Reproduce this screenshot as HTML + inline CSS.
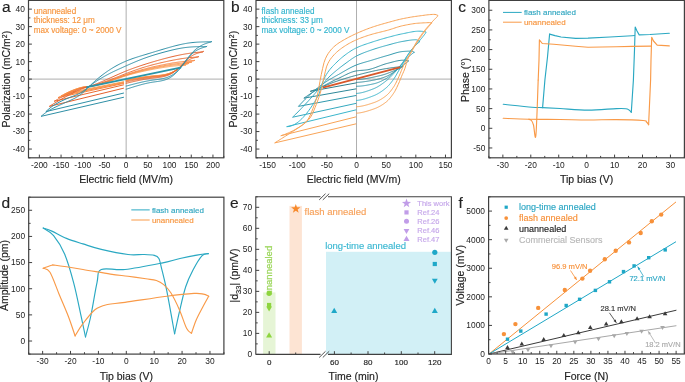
<!DOCTYPE html>
<html><head><meta charset="utf-8"><style>html,body{margin:0;padding:0;background:#fff;}svg{display:block;will-change:transform}</style></head>
<body><svg width="685" height="382" viewBox="0 0 685 382" font-family="&quot;Liberation Sans&quot;, sans-serif">
<rect width="685" height="382" fill="#fff"/>
<line x1="126.15" y1="0.4" x2="126.15" y2="157.8" stroke="#999" stroke-width="0.8"/>
<line x1="28.5" y1="79.10" x2="223.8" y2="79.10" stroke="#999" stroke-width="0.8"/>
<path d="M126.15,79.97 L126.65,79.88 L127.15,79.79 L127.65,79.70 L128.15,79.61 L128.65,79.52 L129.15,79.43 L129.65,79.34 L130.15,79.25 L130.65,79.16 L131.15,79.07 L131.65,78.98 L132.15,78.89 L132.65,78.80 L133.15,78.71 L133.64,78.63 L134.14,78.54 L134.64,78.45 L135.14,78.37 L135.64,78.28 L136.14,78.20 L136.64,78.11 L137.14,78.03 L137.64,77.94 L138.14,77.86 L138.64,77.78 L139.14,77.70 L139.64,77.62 L140.14,77.54 L140.64,77.46 L141.14,77.39 L141.64,77.31 L142.14,77.24 L142.64,77.16 L143.14,77.09 L143.64,77.02 L144.14,76.95 L144.64,76.88 L145.14,76.81 L145.64,76.74 L146.14,76.68 L146.64,76.61 L147.14,76.55 L147.63,76.49 L148.13,76.43 L148.63,76.37 L149.13,76.31 L149.63,76.26 L150.13,76.20 L150.63,76.15 L151.13,76.10 L151.63,76.05 L152.13,76.00 L152.63,75.96 L153.13,75.91 L153.63,75.87 L154.13,75.82 L154.63,75.78 L155.13,75.74 L155.63,75.70 L156.13,75.65 L156.63,75.61 L157.13,75.57 L157.63,75.52 L158.13,75.47 L158.63,75.42 L159.13,75.37 L159.63,75.32 L160.13,75.26 L160.63,75.20 L161.13,75.14 L161.62,75.07 L162.12,75.00 L162.62,74.92 L163.12,74.84 L163.62,74.75 L164.12,74.66 L164.62,74.56 L165.12,74.46 L165.62,74.35 L166.12,74.24 L166.62,74.11 L167.12,73.98 L167.62,73.84 L168.12,73.70 L168.62,73.55 L169.12,73.38 L169.62,73.21 L170.12,73.03 L170.62,72.84 L171.12,72.64 L171.62,72.43 L172.12,72.21 L172.62,71.98 L173.12,71.74 L173.62,71.49 L174.12,71.23 L174.62,70.95 L175.12,70.66 L175.62,70.37 L176.11,70.06 L176.61,69.73 L177.11,69.40 L177.61,69.05 L178.11,68.69 L178.61,68.32 L179.11,67.94 L179.61,67.57 L180.11,67.21 L180.61,66.86 L181.11,66.55 L181.61,66.27 L182.11,66.03 L182.61,65.82 L183.11,65.65 L183.61,65.50 L184.11,65.38 L184.61,65.28 L185.11,65.19 L185.61,65.11 L186.26,64.58 L185.61,65.11 L184.86,65.16 L184.11,65.21 L183.36,65.26 L182.62,65.32 L181.87,65.37 L181.12,65.42 L180.37,65.48 L179.62,65.54 L178.88,65.60 L178.13,65.66 L177.38,65.72 L176.63,65.79 L175.89,65.86 L175.14,65.93 L174.39,66.01 L173.64,66.09 L172.89,66.17 L172.15,66.25 L171.40,66.34 L170.65,66.44 L169.90,66.53 L169.15,66.63 L168.41,66.73 L167.66,66.83 L166.91,66.94 L166.16,67.05 L165.41,67.16 L164.67,67.27 L163.92,67.39 L163.17,67.50 L162.42,67.62 L161.68,67.75 L160.93,67.87 L160.18,68.00 L159.43,68.12 L158.68,68.25 L157.94,68.39 L157.19,68.52 L156.44,68.65 L155.69,68.79 L154.94,68.93 L154.20,69.07 L153.45,69.21 L152.70,69.35 L151.95,69.50 L151.20,69.64 L150.46,69.79 L149.71,69.94 L148.96,70.09 L148.21,70.24 L147.47,70.40 L146.72,70.55 L145.97,70.71 L145.22,70.87 L144.47,71.03 L143.73,71.20 L142.98,71.37 L142.23,71.53 L141.48,71.70 L140.73,71.88 L139.99,72.05 L139.24,72.23 L138.49,72.41 L137.74,72.59 L136.99,72.78 L136.25,72.96 L135.50,73.15 L134.75,73.34 L134.00,73.54 L133.26,73.74 L132.51,73.94 L131.76,74.14 L131.01,74.34 L130.26,74.55 L129.52,74.76 L128.77,74.98 L128.02,75.19 L127.27,75.41 L126.52,75.63 L125.78,75.86 L125.03,76.09 L124.28,76.32 L123.53,76.56 L122.78,76.80 L122.04,77.04 L121.29,77.29 L120.54,77.53 L119.79,77.79 L119.04,78.04 L118.30,78.30 L117.55,78.56 L116.80,78.83 L116.05,79.09 L115.31,79.36 L114.56,79.62 L113.81,79.89 L113.06,80.16 L112.31,80.42 L111.57,80.69 L110.82,80.95 L110.07,81.22 L109.32,81.48 L108.57,81.74 L107.83,82.00 L107.08,82.25 L106.33,82.50 L105.58,82.75 L104.83,82.99 L104.09,83.23 L103.34,83.46 L102.59,83.69 L101.84,83.91 L101.10,84.13 L100.35,84.34 L99.60,84.54 L98.85,84.74 L98.10,84.93 L97.36,85.11 L96.61,85.28 L95.86,85.44 L95.11,85.60 L94.36,85.74 L93.62,85.88 L92.87,86.00 L92.12,86.11 L91.37,86.22 L90.62,86.31 L89.88,86.39 L89.13,86.46 L88.38,86.51 L87.63,86.56 L86.89,86.62 L86.14,86.67 L85.39,86.74 L84.64,86.83 L83.89,86.93 L83.15,87.06 L82.40,87.20 L81.65,87.36 L80.90,87.54 L80.15,87.73 L79.41,87.94 L78.66,88.15 L77.91,88.38 L77.16,88.62 L76.41,88.86 L75.67,89.12 L74.92,89.39 L74.17,89.67 L73.42,89.96 L72.68,90.26 L71.93,90.57 L71.18,90.90 L70.43,91.24 L69.68,91.59 L68.94,91.95 L68.19,92.33 L67.44,92.71 L66.69,93.09 L66.69,93.09 L123.55,81.72" fill="none" stroke="#fca45a" stroke-width="1.0" stroke-linejoin="round" stroke-linecap="round"/>
<path d="M126.15,80.15 L126.67,80.05 L127.19,79.96 L127.71,79.86 L128.24,79.76 L128.76,79.67 L129.28,79.57 L129.80,79.48 L130.32,79.38 L130.84,79.28 L131.37,79.19 L131.89,79.10 L132.41,79.00 L132.93,78.91 L133.45,78.81 L133.97,78.72 L134.49,78.63 L135.02,78.54 L135.54,78.45 L136.06,78.36 L136.58,78.27 L137.10,78.18 L137.62,78.09 L138.15,78.00 L138.67,77.92 L139.19,77.83 L139.71,77.75 L140.23,77.67 L140.75,77.58 L141.27,77.50 L141.80,77.42 L142.32,77.34 L142.84,77.26 L143.36,77.19 L143.88,77.11 L144.40,77.04 L144.93,76.97 L145.45,76.89 L145.97,76.82 L146.49,76.76 L147.01,76.69 L147.53,76.62 L148.05,76.56 L148.58,76.50 L149.10,76.44 L149.62,76.38 L150.14,76.32 L150.66,76.26 L151.18,76.21 L151.70,76.16 L152.23,76.11 L152.75,76.06 L153.27,76.01 L153.79,75.96 L154.31,75.92 L154.83,75.87 L155.36,75.83 L155.88,75.79 L156.40,75.74 L156.92,75.69 L157.44,75.65 L157.96,75.60 L158.48,75.54 L159.01,75.49 L159.53,75.43 L160.05,75.37 L160.57,75.31 L161.09,75.24 L161.61,75.17 L162.14,75.09 L162.66,75.01 L163.18,74.93 L163.70,74.83 L164.22,74.74 L164.74,74.63 L165.26,74.52 L165.79,74.40 L166.31,74.28 L166.83,74.14 L167.35,74.00 L167.87,73.85 L168.39,73.69 L168.92,73.53 L169.44,73.35 L169.96,73.16 L170.48,72.96 L171.00,72.75 L171.52,72.53 L172.04,72.30 L172.57,72.06 L173.09,71.81 L173.61,71.54 L174.13,71.26 L174.65,70.97 L175.17,70.66 L175.70,70.34 L176.22,70.01 L176.74,69.67 L177.26,69.31 L177.78,68.94 L178.30,68.55 L178.82,68.15 L179.35,67.75 L179.87,67.34 L180.39,66.94 L180.91,66.55 L181.43,66.18 L181.95,65.84 L182.48,65.52 L183.00,65.23 L183.52,64.98 L184.04,64.75 L184.56,64.55 L185.08,64.38 L185.60,64.23 L186.13,64.10 L186.65,63.99 L187.17,63.89 L187.69,63.80 L188.21,63.71 L188.86,63.19 L188.21,63.71 L187.43,63.77 L186.65,63.82 L185.87,63.88 L185.09,63.93 L184.31,63.99 L183.53,64.05 L182.75,64.11 L181.97,64.18 L181.19,64.24 L180.41,64.31 L179.62,64.38 L178.84,64.45 L178.06,64.53 L177.28,64.61 L176.50,64.69 L175.72,64.77 L174.94,64.86 L174.16,64.96 L173.38,65.06 L172.60,65.16 L171.82,65.26 L171.04,65.37 L170.26,65.48 L169.48,65.59 L168.70,65.71 L167.91,65.82 L167.13,65.95 L166.35,66.07 L165.57,66.20 L164.79,66.32 L164.01,66.46 L163.23,66.59 L162.45,66.73 L161.67,66.86 L160.89,67.00 L160.11,67.14 L159.33,67.29 L158.55,67.43 L157.77,67.58 L156.99,67.73 L156.21,67.88 L155.42,68.03 L154.64,68.18 L153.86,68.34 L153.08,68.50 L152.30,68.66 L151.52,68.82 L150.74,68.98 L149.96,69.14 L149.18,69.31 L148.40,69.48 L147.62,69.65 L146.84,69.82 L146.06,70.00 L145.28,70.18 L144.50,70.36 L143.71,70.54 L142.93,70.73 L142.15,70.91 L141.37,71.10 L140.59,71.30 L139.81,71.49 L139.03,71.69 L138.25,71.89 L137.47,72.09 L136.69,72.30 L135.91,72.51 L135.13,72.72 L134.35,72.93 L133.57,73.15 L132.79,73.37 L132.00,73.60 L131.22,73.82 L130.44,74.05 L129.66,74.29 L128.88,74.52 L128.10,74.76 L127.32,75.00 L126.54,75.25 L125.76,75.50 L124.98,75.75 L124.20,76.00 L123.42,76.26 L122.64,76.52 L121.86,76.79 L121.08,77.06 L120.30,77.33 L119.51,77.60 L118.73,77.88 L117.95,78.16 L117.17,78.44 L116.39,78.73 L115.61,79.01 L114.83,79.29 L114.05,79.58 L113.27,79.86 L112.49,80.15 L111.71,80.43 L110.93,80.71 L110.15,80.99 L109.37,81.27 L108.59,81.54 L107.80,81.81 L107.02,82.08 L106.24,82.35 L105.46,82.61 L104.68,82.87 L103.90,83.12 L103.12,83.36 L102.34,83.61 L101.56,83.84 L100.78,84.07 L100.00,84.29 L99.22,84.51 L98.44,84.71 L97.66,84.91 L96.88,85.10 L96.09,85.28 L95.31,85.46 L94.53,85.62 L93.75,85.77 L92.97,85.92 L92.19,86.05 L91.41,86.17 L90.63,86.28 L89.85,86.38 L89.07,86.47 L88.29,86.54 L87.51,86.61 L86.73,86.68 L85.95,86.75 L85.17,86.84 L84.39,86.94 L83.60,87.07 L82.82,87.21 L82.04,87.38 L81.26,87.56 L80.48,87.76 L79.70,87.98 L78.92,88.21 L78.14,88.45 L77.36,88.70 L76.58,88.96 L75.80,89.23 L75.02,89.51 L74.24,89.80 L73.46,90.10 L72.68,90.41 L71.89,90.73 L71.11,91.06 L70.33,91.40 L69.55,91.75 L68.77,92.11 L67.99,92.48 L67.21,92.87 L66.43,93.26 L65.65,93.67 L64.87,94.08 L64.09,94.49 L64.09,94.49 L123.55,82.25" fill="none" stroke="#fb9a50" stroke-width="1.0" stroke-linejoin="round" stroke-linecap="round"/>
<path d="M126.15,80.50 L126.70,80.39 L127.24,80.29 L127.79,80.18 L128.34,80.08 L128.89,79.97 L129.43,79.87 L129.98,79.76 L130.53,79.66 L131.07,79.56 L131.62,79.45 L132.17,79.35 L132.71,79.25 L133.26,79.15 L133.81,79.05 L134.36,78.94 L134.90,78.85 L135.45,78.75 L136.00,78.65 L136.54,78.55 L137.09,78.45 L137.64,78.36 L138.19,78.26 L138.73,78.17 L139.28,78.08 L139.83,77.99 L140.37,77.90 L140.92,77.81 L141.47,77.72 L142.01,77.64 L142.56,77.55 L143.11,77.47 L143.66,77.39 L144.20,77.31 L144.75,77.23 L145.30,77.15 L145.84,77.07 L146.39,77.00 L146.94,76.93 L147.49,76.86 L148.03,76.79 L148.58,76.72 L149.13,76.66 L149.67,76.60 L150.22,76.54 L150.77,76.48 L151.31,76.42 L151.86,76.37 L152.41,76.32 L152.96,76.27 L153.50,76.22 L154.05,76.17 L154.60,76.13 L155.14,76.08 L155.69,76.03 L156.24,75.99 L156.79,75.94 L157.33,75.89 L157.88,75.84 L158.43,75.79 L158.97,75.73 L159.52,75.67 L160.07,75.61 L160.61,75.54 L161.16,75.47 L161.71,75.39 L162.26,75.31 L162.80,75.22 L163.35,75.13 L163.90,75.03 L164.44,74.92 L164.99,74.80 L165.54,74.68 L166.09,74.55 L166.63,74.41 L167.18,74.25 L167.73,74.09 L168.27,73.92 L168.82,73.74 L169.37,73.55 L169.91,73.34 L170.46,73.13 L171.01,72.90 L171.56,72.65 L172.10,72.40 L172.65,72.13 L173.20,71.84 L173.74,71.55 L174.29,71.23 L174.84,70.91 L175.39,70.57 L175.93,70.22 L176.48,69.85 L177.03,69.47 L177.57,69.09 L178.12,68.69 L178.67,68.28 L179.21,67.86 L179.76,67.44 L180.31,67.02 L180.86,66.61 L181.40,66.20 L181.95,65.81 L182.50,65.43 L183.04,65.07 L183.59,64.74 L184.14,64.43 L184.69,64.15 L185.23,63.90 L185.78,63.66 L186.33,63.46 L186.87,63.27 L187.42,63.10 L187.97,62.95 L188.51,62.81 L189.06,62.70 L189.61,62.59 L190.16,62.49 L190.70,62.40 L191.25,62.31 L191.90,61.79 L191.25,62.31 L190.43,62.37 L189.61,62.43 L188.79,62.49 L187.97,62.55 L187.16,62.62 L186.34,62.68 L185.52,62.75 L184.70,62.81 L183.88,62.89 L183.06,62.96 L182.24,63.03 L181.42,63.11 L180.60,63.20 L179.79,63.28 L178.97,63.37 L178.15,63.47 L177.33,63.57 L176.51,63.67 L175.69,63.78 L174.87,63.88 L174.05,64.00 L173.23,64.12 L172.42,64.24 L171.60,64.36 L170.78,64.49 L169.96,64.61 L169.14,64.75 L168.32,64.88 L167.50,65.02 L166.68,65.16 L165.87,65.30 L165.05,65.45 L164.23,65.60 L163.41,65.75 L162.59,65.90 L161.77,66.05 L160.95,66.21 L160.13,66.37 L159.31,66.53 L158.50,66.69 L157.68,66.85 L156.86,67.02 L156.04,67.18 L155.22,67.35 L154.40,67.52 L153.58,67.70 L152.76,67.87 L151.94,68.05 L151.13,68.23 L150.31,68.41 L149.49,68.59 L148.67,68.78 L147.85,68.97 L147.03,69.16 L146.21,69.36 L145.39,69.56 L144.57,69.76 L143.76,69.96 L142.94,70.17 L142.12,70.37 L141.30,70.59 L140.48,70.80 L139.66,71.02 L138.84,71.24 L138.02,71.47 L137.20,71.69 L136.39,71.93 L135.57,72.16 L134.75,72.40 L133.93,72.64 L133.11,72.88 L132.29,73.13 L131.47,73.38 L130.65,73.63 L129.83,73.89 L129.02,74.15 L128.20,74.41 L127.38,74.68 L126.56,74.94 L125.74,75.22 L124.92,75.49 L124.10,75.77 L123.28,76.05 L122.47,76.33 L121.65,76.62 L120.83,76.91 L120.01,77.20 L119.19,77.50 L118.37,77.79 L117.55,78.09 L116.73,78.39 L115.91,78.69 L115.10,78.99 L114.28,79.29 L113.46,79.58 L112.64,79.88 L111.82,80.18 L111.00,80.47 L110.18,80.76 L109.36,81.06 L108.54,81.34 L107.73,81.63 L106.91,81.91 L106.09,82.19 L105.27,82.46 L104.45,82.73 L103.63,82.99 L102.81,83.25 L101.99,83.50 L101.17,83.75 L100.36,83.99 L99.54,84.23 L98.72,84.45 L97.90,84.67 L97.08,84.88 L96.26,85.09 L95.44,85.28 L94.62,85.47 L93.80,85.65 L92.99,85.81 L92.17,85.97 L91.35,86.12 L90.53,86.26 L89.71,86.38 L88.89,86.50 L88.07,86.60 L87.25,86.70 L86.43,86.80 L85.62,86.91 L84.80,87.03 L83.98,87.16 L83.16,87.31 L82.34,87.49 L81.52,87.68 L80.70,87.90 L79.88,88.13 L79.07,88.37 L78.25,88.63 L77.43,88.89 L76.61,89.17 L75.79,89.45 L74.97,89.74 L74.15,90.04 L73.33,90.35 L72.51,90.66 L71.70,90.98 L70.88,91.31 L70.06,91.65 L69.24,92.00 L68.42,92.35 L67.60,92.71 L66.78,93.08 L65.96,93.46 L65.14,93.85 L64.33,94.25 L63.51,94.65 L62.69,95.06 L61.87,95.47 L61.05,95.89 L61.05,95.89 L123.55,82.77" fill="none" stroke="#fa9048" stroke-width="1.0" stroke-linejoin="round" stroke-linecap="round"/>
<path d="M126.15,80.85 L126.72,80.74 L127.30,80.62 L127.87,80.51 L128.44,80.39 L129.01,80.28 L129.59,80.17 L130.16,80.06 L130.73,79.94 L131.30,79.83 L131.88,79.72 L132.45,79.61 L133.02,79.50 L133.59,79.39 L134.17,79.28 L134.74,79.18 L135.31,79.07 L135.88,78.96 L136.46,78.86 L137.03,78.75 L137.60,78.65 L138.17,78.55 L138.75,78.45 L139.32,78.35 L139.89,78.25 L140.46,78.15 L141.04,78.06 L141.61,77.96 L142.18,77.87 L142.76,77.78 L143.33,77.69 L143.90,77.61 L144.47,77.52 L145.05,77.44 L145.62,77.35 L146.19,77.27 L146.76,77.20 L147.34,77.12 L147.91,77.05 L148.48,76.97 L149.05,76.90 L149.63,76.84 L150.20,76.77 L150.77,76.71 L151.34,76.65 L151.92,76.59 L152.49,76.54 L153.06,76.48 L153.63,76.43 L154.21,76.38 L154.78,76.33 L155.35,76.28 L155.92,76.23 L156.50,76.18 L157.07,76.13 L157.64,76.08 L158.21,76.02 L158.79,75.96 L159.36,75.90 L159.93,75.83 L160.51,75.76 L161.08,75.69 L161.65,75.61 L162.22,75.52 L162.80,75.42 L163.37,75.32 L163.94,75.21 L164.51,75.10 L165.09,74.97 L165.66,74.83 L166.23,74.69 L166.80,74.53 L167.38,74.37 L167.95,74.19 L168.52,74.00 L169.09,73.80 L169.67,73.58 L170.24,73.35 L170.81,73.11 L171.38,72.85 L171.96,72.58 L172.53,72.29 L173.10,71.99 L173.67,71.67 L174.25,71.33 L174.82,70.98 L175.39,70.62 L175.97,70.24 L176.54,69.84 L177.11,69.44 L177.68,69.02 L178.26,68.59 L178.83,68.15 L179.40,67.70 L179.97,67.24 L180.55,66.79 L181.12,66.33 L181.69,65.89 L182.26,65.45 L182.84,65.02 L183.41,64.61 L183.98,64.21 L184.55,63.84 L185.13,63.49 L185.70,63.17 L186.27,62.87 L186.84,62.60 L187.42,62.34 L187.99,62.11 L188.56,61.90 L189.13,61.70 L189.71,61.52 L190.28,61.36 L190.85,61.22 L191.43,61.09 L192.00,60.97 L192.57,60.86 L193.14,60.76 L193.72,60.66 L194.29,60.56 L194.94,60.04 L194.29,60.56 L193.43,60.63 L192.57,60.69 L191.72,60.76 L190.86,60.83 L190.00,60.89 L189.15,60.97 L188.29,61.04 L187.43,61.11 L186.57,61.19 L185.72,61.27 L184.86,61.35 L184.00,61.44 L183.15,61.53 L182.29,61.63 L181.43,61.73 L180.57,61.83 L179.72,61.94 L178.86,62.05 L178.00,62.17 L177.15,62.29 L176.29,62.42 L175.43,62.54 L174.58,62.68 L173.72,62.81 L172.86,62.95 L172.00,63.09 L171.15,63.24 L170.29,63.39 L169.43,63.54 L168.58,63.70 L167.72,63.85 L166.86,64.01 L166.00,64.18 L165.15,64.34 L164.29,64.51 L163.43,64.68 L162.58,64.85 L161.72,65.02 L160.86,65.19 L160.00,65.37 L159.15,65.55 L158.29,65.73 L157.43,65.91 L156.58,66.10 L155.72,66.29 L154.86,66.48 L154.01,66.67 L153.15,66.86 L152.29,67.06 L151.43,67.26 L150.58,67.46 L149.72,67.67 L148.86,67.88 L148.01,68.09 L147.15,68.31 L146.29,68.52 L145.43,68.75 L144.58,68.97 L143.72,69.20 L142.86,69.43 L142.01,69.67 L141.15,69.91 L140.29,70.15 L139.43,70.40 L138.58,70.65 L137.72,70.90 L136.86,71.16 L136.01,71.42 L135.15,71.69 L134.29,71.95 L133.44,72.22 L132.58,72.50 L131.72,72.77 L130.86,73.05 L130.01,73.34 L129.15,73.62 L128.29,73.91 L127.44,74.21 L126.58,74.50 L125.72,74.80 L124.86,75.10 L124.01,75.40 L123.15,75.71 L122.29,76.02 L121.44,76.33 L120.58,76.64 L119.72,76.96 L118.86,77.27 L118.01,77.59 L117.15,77.91 L116.29,78.23 L115.44,78.54 L114.58,78.86 L113.72,79.18 L112.87,79.49 L112.01,79.81 L111.15,80.12 L110.29,80.43 L109.44,80.74 L108.58,81.04 L107.72,81.34 L106.87,81.64 L106.01,81.94 L105.15,82.23 L104.29,82.51 L103.44,82.79 L102.58,83.07 L101.72,83.34 L100.87,83.60 L100.01,83.86 L99.15,84.12 L98.29,84.36 L97.44,84.60 L96.58,84.83 L95.72,85.05 L94.87,85.27 L94.01,85.47 L93.15,85.67 L92.30,85.86 L91.44,86.04 L90.58,86.21 L89.72,86.36 L88.87,86.51 L88.01,86.65 L87.15,86.79 L86.30,86.92 L85.44,87.06 L84.58,87.21 L83.72,87.38 L82.87,87.56 L82.01,87.77 L81.15,87.99 L80.30,88.23 L79.44,88.49 L78.58,88.77 L77.72,89.06 L76.87,89.36 L76.01,89.66 L75.15,89.98 L74.30,90.30 L73.44,90.63 L72.58,90.96 L71.73,91.30 L70.87,91.65 L70.01,92.00 L69.15,92.36 L68.30,92.72 L67.44,93.10 L66.58,93.48 L65.73,93.86 L64.87,94.26 L64.01,94.66 L63.15,95.07 L62.30,95.48 L61.44,95.90 L60.58,96.33 L59.73,96.76 L58.87,97.20 L58.01,97.64 L58.01,97.64 L123.55,83.47" fill="none" stroke="#f98640" stroke-width="1.0" stroke-linejoin="round" stroke-linecap="round"/>
<path d="M126.15,81.90 L126.76,81.77 L127.36,81.64 L127.97,81.51 L128.57,81.38 L129.18,81.25 L129.78,81.12 L130.39,80.99 L130.99,80.87 L131.60,80.74 L132.20,80.61 L132.81,80.49 L133.41,80.36 L134.02,80.24 L134.63,80.12 L135.23,79.99 L135.84,79.87 L136.44,79.75 L137.05,79.63 L137.65,79.52 L138.26,79.40 L138.86,79.28 L139.47,79.17 L140.07,79.06 L140.68,78.95 L141.29,78.84 L141.89,78.73 L142.50,78.63 L143.10,78.52 L143.71,78.42 L144.31,78.32 L144.92,78.23 L145.52,78.13 L146.13,78.04 L146.73,77.95 L147.34,77.86 L147.94,77.77 L148.55,77.69 L149.16,77.61 L149.76,77.53 L150.37,77.46 L150.97,77.38 L151.58,77.31 L152.18,77.25 L152.79,77.18 L153.39,77.12 L154.00,77.06 L154.60,77.00 L155.21,76.94 L155.82,76.89 L156.42,76.83 L157.03,76.76 L157.63,76.70 L158.24,76.64 L158.84,76.57 L159.45,76.49 L160.05,76.41 L160.66,76.33 L161.26,76.24 L161.87,76.14 L162.47,76.03 L163.08,75.92 L163.69,75.80 L164.29,75.67 L164.90,75.53 L165.50,75.38 L166.11,75.21 L166.71,75.04 L167.32,74.85 L167.92,74.65 L168.53,74.43 L169.13,74.20 L169.74,73.96 L170.35,73.69 L170.95,73.42 L171.56,73.12 L172.16,72.81 L172.77,72.47 L173.37,72.12 L173.98,71.75 L174.58,71.36 L175.19,70.95 L175.79,70.52 L176.40,70.08 L177.00,69.61 L177.61,69.12 L178.22,68.62 L178.82,68.10 L179.43,67.56 L180.03,67.01 L180.64,66.45 L181.24,65.89 L181.85,65.33 L182.45,64.77 L183.06,64.21 L183.66,63.67 L184.27,63.14 L184.87,62.63 L185.48,62.14 L186.09,61.67 L186.69,61.23 L187.30,60.82 L187.90,60.44 L188.51,60.08 L189.11,59.75 L189.72,59.44 L190.32,59.15 L190.93,58.89 L191.53,58.64 L192.14,58.41 L192.75,58.21 L193.35,58.02 L193.96,57.84 L194.56,57.68 L195.17,57.53 L195.77,57.39 L196.38,57.26 L196.98,57.13 L197.59,57.01 L198.19,56.89 L198.84,56.36 L198.19,56.89 L197.29,56.97 L196.38,57.04 L195.48,57.12 L194.57,57.20 L193.66,57.28 L192.76,57.36 L191.85,57.44 L190.94,57.53 L190.04,57.62 L189.13,57.71 L188.23,57.81 L187.32,57.92 L186.41,58.02 L185.51,58.13 L184.60,58.25 L183.69,58.38 L182.79,58.50 L181.88,58.64 L180.98,58.78 L180.07,58.92 L179.16,59.07 L178.26,59.22 L177.35,59.37 L176.44,59.53 L175.54,59.70 L174.63,59.87 L173.73,60.04 L172.82,60.21 L171.91,60.39 L171.01,60.57 L170.10,60.76 L169.20,60.95 L168.29,61.14 L167.38,61.33 L166.48,61.53 L165.57,61.72 L164.66,61.92 L163.76,62.13 L162.85,62.33 L161.95,62.54 L161.04,62.74 L160.13,62.96 L159.23,63.17 L158.32,63.39 L157.41,63.61 L156.51,63.83 L155.60,64.06 L154.70,64.29 L153.79,64.52 L152.88,64.76 L151.98,64.99 L151.07,65.24 L150.16,65.49 L149.26,65.74 L148.35,65.99 L147.45,66.25 L146.54,66.52 L145.63,66.78 L144.73,67.06 L143.82,67.33 L142.91,67.62 L142.01,67.90 L141.10,68.19 L140.20,68.49 L139.29,68.79 L138.38,69.09 L137.48,69.40 L136.57,69.71 L135.67,70.03 L134.76,70.34 L133.85,70.66 L132.95,70.99 L132.04,71.32 L131.13,71.65 L130.23,71.98 L129.32,72.32 L128.42,72.66 L127.51,73.00 L126.60,73.34 L125.70,73.69 L124.79,74.04 L123.88,74.39 L122.98,74.74 L122.07,75.09 L121.17,75.45 L120.26,75.80 L119.35,76.16 L118.45,76.52 L117.54,76.87 L116.63,77.23 L115.73,77.58 L114.82,77.94 L113.92,78.29 L113.01,78.64 L112.10,78.99 L111.20,79.34 L110.29,79.69 L109.39,80.03 L108.48,80.37 L107.57,80.71 L106.67,81.05 L105.76,81.38 L104.85,81.71 L103.95,82.03 L103.04,82.35 L102.14,82.66 L101.23,82.97 L100.32,83.27 L99.42,83.57 L98.51,83.86 L97.60,84.15 L96.70,84.43 L95.79,84.70 L94.89,84.97 L93.98,85.23 L93.07,85.48 L92.17,85.72 L91.26,85.96 L90.35,86.18 L89.45,86.40 L88.54,86.61 L87.64,86.81 L86.73,87.02 L85.82,87.22 L84.92,87.43 L84.01,87.65 L83.10,87.89 L82.20,88.15 L81.29,88.42 L80.39,88.72 L79.48,89.04 L78.57,89.37 L77.67,89.72 L76.76,90.09 L75.86,90.46 L74.95,90.85 L74.04,91.24 L73.14,91.64 L72.23,92.04 L71.32,92.45 L70.42,92.86 L69.51,93.28 L68.61,93.71 L67.70,94.14 L66.79,94.57 L65.89,95.02 L64.98,95.47 L64.07,95.92 L63.17,96.38 L62.26,96.85 L61.36,97.32 L60.45,97.80 L59.54,98.29 L58.64,98.78 L57.73,99.28 L56.82,99.78 L55.92,100.29 L55.01,100.80 L54.11,101.31 L54.11,101.31 L123.55,84.87" fill="none" stroke="#ea6a30" stroke-width="1.0" stroke-linejoin="round" stroke-linecap="round"/>
<path d="M126.15,83.30 L126.80,83.14 L127.44,82.99 L128.09,82.84 L128.73,82.69 L129.38,82.54 L130.02,82.39 L130.67,82.24 L131.31,82.09 L131.96,81.94 L132.61,81.79 L133.25,81.64 L133.90,81.49 L134.54,81.35 L135.19,81.20 L135.83,81.06 L136.48,80.92 L137.12,80.78 L137.77,80.64 L138.42,80.51 L139.06,80.37 L139.71,80.24 L140.35,80.11 L141.00,79.98 L141.64,79.85 L142.29,79.73 L142.93,79.60 L143.58,79.48 L144.22,79.37 L144.87,79.25 L145.52,79.14 L146.16,79.03 L146.81,78.92 L147.45,78.82 L148.10,78.72 L148.74,78.62 L149.39,78.53 L150.03,78.43 L150.68,78.35 L151.33,78.26 L151.97,78.18 L152.62,78.11 L153.26,78.03 L153.91,77.96 L154.55,77.89 L155.20,77.82 L155.84,77.75 L156.49,77.68 L157.14,77.61 L157.78,77.53 L158.43,77.45 L159.07,77.37 L159.72,77.28 L160.36,77.18 L161.01,77.07 L161.65,76.96 L162.30,76.84 L162.95,76.71 L163.59,76.57 L164.24,76.42 L164.88,76.25 L165.53,76.07 L166.17,75.88 L166.82,75.67 L167.46,75.44 L168.11,75.20 L168.75,74.94 L169.40,74.66 L170.05,74.37 L170.69,74.05 L171.34,73.71 L171.98,73.35 L172.63,72.97 L173.27,72.56 L173.92,72.13 L174.56,71.67 L175.21,71.19 L175.86,70.68 L176.50,70.15 L177.15,69.60 L177.79,69.01 L178.44,68.41 L179.08,67.78 L179.73,67.13 L180.37,66.46 L181.02,65.78 L181.67,65.09 L182.31,64.40 L182.96,63.71 L183.60,63.01 L184.25,62.32 L184.89,61.65 L185.54,60.98 L186.18,60.34 L186.83,59.71 L187.48,59.11 L188.12,58.54 L188.77,58.00 L189.41,57.49 L190.06,57.01 L190.70,56.55 L191.35,56.13 L191.99,55.73 L192.64,55.36 L193.29,55.01 L193.93,54.69 L194.58,54.38 L195.22,54.10 L195.87,53.84 L196.51,53.59 L197.16,53.37 L197.80,53.15 L198.45,52.96 L199.09,52.77 L199.74,52.60 L200.39,52.43 L201.03,52.27 L201.68,52.12 L202.32,51.97 L202.97,51.82 L203.62,51.29 L202.97,51.82 L202.00,51.91 L201.04,52.00 L200.07,52.09 L199.10,52.19 L198.14,52.28 L197.17,52.38 L196.20,52.48 L195.24,52.59 L194.27,52.70 L193.31,52.81 L192.34,52.93 L191.37,53.05 L190.41,53.18 L189.44,53.32 L188.47,53.46 L187.51,53.61 L186.54,53.76 L185.58,53.92 L184.61,54.09 L183.64,54.26 L182.68,54.44 L181.71,54.62 L180.74,54.81 L179.78,55.00 L178.81,55.20 L177.85,55.40 L176.88,55.61 L175.91,55.82 L174.95,56.04 L173.98,56.26 L173.01,56.49 L172.05,56.71 L171.08,56.95 L170.12,57.18 L169.15,57.42 L168.18,57.66 L167.22,57.91 L166.25,58.16 L165.28,58.41 L164.32,58.66 L163.35,58.92 L162.38,59.18 L161.42,59.44 L160.45,59.71 L159.49,59.97 L158.52,60.24 L157.55,60.52 L156.59,60.79 L155.62,61.07 L154.65,61.36 L153.69,61.64 L152.72,61.93 L151.76,62.21 L150.79,62.51 L149.82,62.80 L148.86,63.10 L147.89,63.39 L146.92,63.70 L145.96,64.00 L144.99,64.30 L144.03,64.61 L143.06,64.92 L142.09,65.24 L141.13,65.55 L140.16,65.87 L139.19,66.19 L138.23,66.52 L137.26,66.85 L136.30,67.19 L135.33,67.53 L134.36,67.87 L133.40,68.22 L132.43,68.57 L131.46,68.93 L130.50,69.29 L129.53,69.66 L128.57,70.03 L127.60,70.41 L126.63,70.79 L125.67,71.18 L124.70,71.58 L123.73,71.98 L122.77,72.39 L121.80,72.80 L120.84,73.21 L119.87,73.63 L118.90,74.05 L117.94,74.48 L116.97,74.91 L116.00,75.34 L115.04,75.77 L114.07,76.20 L113.11,76.64 L112.14,77.07 L111.17,77.50 L110.21,77.94 L109.24,78.37 L108.27,78.80 L107.31,79.23 L106.34,79.66 L105.38,80.09 L104.41,80.51 L103.44,80.93 L102.48,81.35 L101.51,81.76 L100.54,82.16 L99.58,82.57 L98.61,82.96 L97.65,83.36 L96.68,83.74 L95.71,84.12 L94.75,84.49 L93.78,84.85 L92.81,85.21 L91.85,85.56 L90.88,85.90 L89.92,86.23 L88.95,86.55 L87.98,86.86 L87.02,87.17 L86.05,87.47 L85.08,87.78 L84.12,88.10 L83.15,88.43 L82.18,88.77 L81.22,89.13 L80.25,89.52 L79.29,89.92 L78.32,90.34 L77.35,90.78 L76.39,91.23 L75.42,91.70 L74.45,92.18 L73.49,92.66 L72.52,93.16 L71.56,93.66 L70.59,94.16 L69.62,94.67 L68.66,95.18 L67.69,95.69 L66.72,96.21 L65.76,96.74 L64.79,97.27 L63.83,97.80 L62.86,98.34 L61.89,98.88 L60.93,99.43 L59.96,99.98 L58.99,100.54 L58.03,101.11 L57.06,101.68 L56.10,102.25 L55.13,102.83 L54.16,103.41 L53.20,104.00 L52.23,104.59 L51.26,105.19 L50.30,105.79 L49.33,106.38 L49.33,106.38 L123.55,88.19" fill="none" stroke="#e4602c" stroke-width="1.0" stroke-linejoin="round" stroke-linecap="round"/>
<path d="M87.09,87.14 L180.40,67.73" fill="none" stroke="#2a95a8" stroke-width="1.8" stroke-linejoin="round" stroke-linecap="round"/>
<path d="M126.15,86.10 L126.82,85.92 L127.50,85.74 L128.17,85.56 L128.85,85.38 L129.52,85.20 L130.20,85.02 L130.87,84.84 L131.55,84.66 L132.22,84.49 L132.90,84.31 L133.57,84.14 L134.25,83.97 L134.92,83.79 L135.60,83.62 L136.27,83.46 L136.95,83.29 L137.62,83.12 L138.29,82.96 L138.97,82.80 L139.64,82.64 L140.32,82.48 L140.99,82.33 L141.67,82.18 L142.34,82.03 L143.02,81.88 L143.69,81.73 L144.37,81.59 L145.04,81.45 L145.72,81.32 L146.39,81.18 L147.07,81.05 L147.74,80.93 L148.42,80.81 L149.09,80.69 L149.76,80.57 L150.44,80.46 L151.11,80.35 L151.79,80.25 L152.46,80.15 L153.14,80.06 L153.81,79.96 L154.49,79.88 L155.16,79.79 L155.84,79.70 L156.51,79.62 L157.19,79.53 L157.86,79.44 L158.54,79.35 L159.21,79.25 L159.89,79.14 L160.56,79.03 L161.23,78.92 L161.91,78.79 L162.58,78.66 L163.26,78.51 L163.93,78.35 L164.61,78.18 L165.28,77.99 L165.96,77.79 L166.63,77.58 L167.31,77.35 L167.98,77.09 L168.66,76.82 L169.33,76.53 L170.01,76.22 L170.68,75.89 L171.36,75.53 L172.03,75.15 L172.70,74.75 L173.38,74.31 L174.05,73.85 L174.73,73.37 L175.40,72.85 L176.08,72.30 L176.75,71.72 L177.43,71.10 L178.10,70.45 L178.78,69.77 L179.45,69.04 L180.13,68.28 L180.80,67.49 L181.48,66.66 L182.15,65.81 L182.83,64.95 L183.50,64.06 L184.17,63.17 L184.85,62.28 L185.52,61.38 L186.20,60.49 L186.87,59.62 L187.55,58.76 L188.22,57.92 L188.90,57.10 L189.57,56.32 L190.25,55.58 L190.92,54.87 L191.60,54.21 L192.27,53.58 L192.95,52.99 L193.62,52.44 L194.30,51.92 L194.97,51.44 L195.64,50.98 L196.32,50.56 L196.99,50.16 L197.67,49.79 L198.34,49.44 L199.02,49.12 L199.69,48.82 L200.37,48.54 L201.04,48.27 L201.72,48.02 L202.39,47.79 L203.07,47.57 L203.74,47.36 L204.42,47.15 L205.09,46.96 L205.77,46.76 L206.44,46.57 L207.09,46.05 L206.44,46.57 L205.43,46.58 L204.42,46.58 L203.41,46.59 L202.40,46.60 L201.39,46.61 L200.38,46.62 L199.37,46.64 L198.36,46.66 L197.35,46.69 L196.34,46.72 L195.33,46.76 L194.32,46.80 L193.31,46.85 L192.30,46.91 L191.29,46.97 L190.28,47.05 L189.27,47.13 L188.26,47.22 L187.25,47.32 L186.24,47.44 L185.23,47.56 L184.22,47.70 L183.21,47.84 L182.20,48.00 L181.19,48.17 L180.18,48.35 L179.17,48.53 L178.16,48.73 L177.15,48.93 L176.14,49.14 L175.13,49.36 L174.12,49.59 L173.11,49.82 L172.10,50.06 L171.09,50.30 L170.08,50.55 L169.07,50.81 L168.06,51.06 L167.05,51.33 L166.04,51.59 L165.03,51.86 L164.02,52.13 L163.01,52.41 L162.00,52.68 L160.99,52.96 L159.98,53.25 L158.97,53.53 L157.96,53.83 L156.95,54.12 L155.94,54.42 L154.93,54.73 L153.92,55.04 L152.91,55.35 L151.90,55.67 L150.89,56.00 L149.88,56.33 L148.87,56.67 L147.86,57.01 L146.85,57.36 L145.84,57.72 L144.83,58.08 L143.82,58.45 L142.81,58.83 L141.80,59.21 L140.79,59.61 L139.78,60.00 L138.77,60.41 L137.76,60.82 L136.75,61.23 L135.74,61.65 L134.73,62.08 L133.72,62.51 L132.71,62.94 L131.70,63.37 L130.69,63.81 L129.68,64.25 L128.67,64.70 L127.66,65.15 L126.65,65.60 L125.65,66.05 L124.64,66.50 L123.63,66.95 L122.62,67.40 L121.61,67.86 L120.60,68.31 L119.59,68.77 L118.58,69.23 L117.57,69.70 L116.56,70.17 L115.55,70.64 L114.54,71.12 L113.53,71.60 L112.52,72.09 L111.51,72.59 L110.50,73.09 L109.49,73.61 L108.48,74.13 L107.47,74.66 L106.46,75.20 L105.45,75.75 L104.44,76.31 L103.43,76.88 L102.42,77.47 L101.41,78.06 L100.40,78.67 L99.39,79.30 L98.38,79.94 L97.37,80.59 L96.36,81.26 L95.35,81.94 L94.34,82.64 L93.33,83.36 L92.32,84.10 L91.31,84.86 L90.30,85.63 L89.29,86.42 L88.28,87.24 L87.27,88.06 L86.26,88.87 L85.25,89.67 L84.24,90.44 L83.23,91.18 L82.22,91.85 L81.21,92.48 L80.20,93.05 L79.19,93.58 L78.18,94.07 L77.17,94.53 L76.16,94.96 L75.15,95.37 L74.14,95.77 L73.13,96.15 L72.12,96.54 L71.11,96.92 L70.10,97.32 L69.09,97.72 L68.08,98.13 L67.07,98.55 L66.06,98.98 L65.05,99.42 L64.04,99.87 L63.03,100.33 L62.02,100.81 L61.01,101.30 L60.00,101.81 L58.99,102.32 L57.98,102.86 L56.97,103.41 L55.96,103.98 L54.95,104.57 L53.94,105.19 L52.93,105.85 L51.92,106.55 L50.91,107.29 L49.90,108.09 L48.89,108.94 L47.88,109.81 L46.87,110.72 L45.86,111.63 L45.86,111.63 L123.55,93.09" fill="none" stroke="#2e8fa6" stroke-width="1.0" stroke-linejoin="round" stroke-linecap="round"/>
<path d="M126.15,89.24 L126.86,89.01 L127.58,88.78 L128.29,88.56 L129.01,88.33 L129.72,88.10 L130.44,87.87 L131.15,87.65 L131.87,87.42 L132.58,87.20 L133.30,86.97 L134.01,86.75 L134.73,86.54 L135.44,86.32 L136.16,86.11 L136.87,85.89 L137.59,85.68 L138.30,85.48 L139.02,85.27 L139.73,85.07 L140.45,84.88 L141.16,84.68 L141.88,84.49 L142.59,84.31 L143.31,84.12 L144.02,83.94 L144.74,83.77 L145.45,83.60 L146.17,83.43 L146.88,83.27 L147.59,83.12 L148.31,82.97 L149.02,82.82 L149.74,82.68 L150.45,82.55 L151.17,82.42 L151.88,82.30 L152.60,82.18 L153.31,82.07 L154.03,81.97 L154.74,81.87 L155.46,81.77 L156.17,81.67 L156.89,81.57 L157.60,81.47 L158.32,81.36 L159.03,81.25 L159.75,81.13 L160.46,81.00 L161.18,80.86 L161.89,80.71 L162.61,80.55 L163.32,80.37 L164.04,80.17 L164.75,79.96 L165.47,79.72 L166.18,79.47 L166.89,79.19 L167.61,78.88 L168.32,78.55 L169.04,78.19 L169.75,77.80 L170.47,77.38 L171.18,76.93 L171.90,76.45 L172.61,75.93 L173.33,75.37 L174.04,74.77 L174.76,74.13 L175.47,73.45 L176.19,72.74 L176.90,71.99 L177.62,71.20 L178.33,70.39 L179.05,69.54 L179.76,68.67 L180.48,67.78 L181.19,66.86 L181.91,65.93 L182.62,64.98 L183.34,64.02 L184.05,63.05 L184.77,62.09 L185.48,61.12 L186.20,60.15 L186.91,59.20 L187.62,58.25 L188.34,57.32 L189.05,56.41 L189.77,55.52 L190.48,54.65 L191.20,53.81 L191.91,53.01 L192.63,52.24 L193.34,51.51 L194.06,50.81 L194.77,50.15 L195.49,49.53 L196.20,48.93 L196.92,48.37 L197.63,47.84 L198.35,47.33 L199.06,46.86 L199.78,46.41 L200.49,45.99 L201.21,45.59 L201.92,45.21 L202.64,44.86 L203.35,44.53 L204.07,44.22 L204.78,43.93 L205.50,43.66 L206.21,43.40 L206.93,43.16 L207.64,42.92 L208.35,42.70 L209.07,42.48 L209.78,42.26 L210.50,42.06 L211.21,41.85 L211.87,41.32 L211.21,41.85 L210.14,41.85 L209.07,41.86 L208.00,41.87 L206.93,41.88 L205.86,41.89 L204.79,41.91 L203.72,41.93 L202.65,41.95 L201.58,41.98 L200.51,42.02 L199.44,42.06 L198.37,42.11 L197.30,42.17 L196.23,42.24 L195.16,42.32 L194.09,42.40 L193.02,42.50 L191.95,42.61 L190.88,42.73 L189.81,42.87 L188.74,43.01 L187.67,43.17 L186.60,43.35 L185.53,43.53 L184.46,43.73 L183.39,43.93 L182.32,44.15 L181.25,44.38 L180.18,44.61 L179.11,44.86 L178.04,45.11 L176.97,45.37 L175.90,45.64 L174.83,45.92 L173.76,46.20 L172.69,46.48 L171.62,46.77 L170.55,47.07 L169.48,47.37 L168.41,47.67 L167.34,47.98 L166.27,48.29 L165.20,48.60 L164.13,48.91 L163.06,49.23 L161.99,49.55 L160.92,49.87 L159.85,50.19 L158.78,50.51 L157.71,50.83 L156.64,51.16 L155.57,51.48 L154.50,51.81 L153.43,52.13 L152.36,52.46 L151.29,52.78 L150.22,53.11 L149.15,53.43 L148.08,53.76 L147.01,54.08 L145.94,54.40 L144.87,54.72 L143.80,55.04 L142.73,55.36 L141.66,55.69 L140.59,56.01 L139.52,56.34 L138.45,56.68 L137.38,57.01 L136.31,57.36 L135.24,57.71 L134.17,58.06 L133.10,58.43 L132.03,58.81 L130.96,59.19 L129.89,59.58 L128.82,59.99 L127.75,60.41 L126.68,60.84 L125.62,61.29 L124.55,61.75 L123.48,62.22 L122.41,62.71 L121.34,63.22 L120.27,63.74 L119.20,64.28 L118.13,64.83 L117.06,65.40 L115.99,65.99 L114.92,66.59 L113.85,67.21 L112.78,67.85 L111.71,68.50 L110.64,69.18 L109.57,69.86 L108.50,70.57 L107.43,71.29 L106.36,72.04 L105.29,72.80 L104.22,73.57 L103.15,74.37 L102.08,75.19 L101.01,76.02 L99.94,76.87 L98.87,77.74 L97.80,78.63 L96.73,79.54 L95.66,80.47 L94.59,81.42 L93.52,82.39 L92.45,83.38 L91.38,84.39 L90.31,85.42 L89.24,86.47 L88.17,87.54 L87.10,88.61 L86.03,89.68 L84.96,90.73 L83.89,91.75 L82.82,92.73 L81.75,93.64 L80.68,94.49 L79.61,95.28 L78.54,96.01 L77.47,96.70 L76.40,97.33 L75.33,97.93 L74.26,98.50 L73.19,99.03 L72.12,99.54 L71.05,100.04 L69.98,100.53 L68.91,101.00 L67.84,101.48 L66.77,101.96 L65.70,102.43 L64.63,102.90 L63.56,103.38 L62.49,103.86 L61.42,104.34 L60.35,104.82 L59.28,105.31 L58.21,105.80 L57.14,106.30 L56.07,106.81 L55.00,107.32 L53.93,107.85 L52.86,108.38 L51.79,108.93 L50.72,109.50 L49.65,110.10 L48.58,110.73 L47.51,111.40 L46.44,112.13 L45.37,112.91 L44.30,113.73 L43.23,114.58 L42.16,115.46 L41.09,116.35 L41.09,116.35 L123.55,97.29" fill="none" stroke="#2e8fa6" stroke-width="1.0" stroke-linejoin="round" stroke-linecap="round"/>
<rect x="28.50" y="0.40" width="195.30" height="157.40" fill="none" stroke="#404040" stroke-width="1.2"/>
<line x1="39.35" y1="157.80" x2="39.35" y2="154.60" stroke="#404040" stroke-width="1"/>
<line x1="61.05" y1="157.80" x2="61.05" y2="154.60" stroke="#404040" stroke-width="1"/>
<line x1="82.75" y1="157.80" x2="82.75" y2="154.60" stroke="#404040" stroke-width="1"/>
<line x1="104.45" y1="157.80" x2="104.45" y2="154.60" stroke="#404040" stroke-width="1"/>
<line x1="126.15" y1="157.80" x2="126.15" y2="154.60" stroke="#404040" stroke-width="1"/>
<line x1="147.85" y1="157.80" x2="147.85" y2="154.60" stroke="#404040" stroke-width="1"/>
<line x1="169.55" y1="157.80" x2="169.55" y2="154.60" stroke="#404040" stroke-width="1"/>
<line x1="191.25" y1="157.80" x2="191.25" y2="154.60" stroke="#404040" stroke-width="1"/>
<line x1="212.95" y1="157.80" x2="212.95" y2="154.60" stroke="#404040" stroke-width="1"/>
<line x1="28.50" y1="157.80" x2="28.50" y2="155.90" stroke="#404040" stroke-width="1"/>
<line x1="50.20" y1="157.80" x2="50.20" y2="155.90" stroke="#404040" stroke-width="1"/>
<line x1="71.90" y1="157.80" x2="71.90" y2="155.90" stroke="#404040" stroke-width="1"/>
<line x1="93.60" y1="157.80" x2="93.60" y2="155.90" stroke="#404040" stroke-width="1"/>
<line x1="115.30" y1="157.80" x2="115.30" y2="155.90" stroke="#404040" stroke-width="1"/>
<line x1="137.00" y1="157.80" x2="137.00" y2="155.90" stroke="#404040" stroke-width="1"/>
<line x1="158.70" y1="157.80" x2="158.70" y2="155.90" stroke="#404040" stroke-width="1"/>
<line x1="180.40" y1="157.80" x2="180.40" y2="155.90" stroke="#404040" stroke-width="1"/>
<line x1="202.10" y1="157.80" x2="202.10" y2="155.90" stroke="#404040" stroke-width="1"/>
<line x1="223.80" y1="157.80" x2="223.80" y2="155.90" stroke="#404040" stroke-width="1"/>
<text x="39.35" y="167.90" font-size="8.4" text-anchor="middle" fill="#222">-200</text>
<text x="61.05" y="167.90" font-size="8.4" text-anchor="middle" fill="#222">-150</text>
<text x="82.75" y="167.90" font-size="8.4" text-anchor="middle" fill="#222">-100</text>
<text x="104.45" y="167.90" font-size="8.4" text-anchor="middle" fill="#222">-50</text>
<text x="126.15" y="167.90" font-size="8.4" text-anchor="middle" fill="#222">0</text>
<text x="147.85" y="167.90" font-size="8.4" text-anchor="middle" fill="#222">50</text>
<text x="169.55" y="167.90" font-size="8.4" text-anchor="middle" fill="#222">100</text>
<text x="191.25" y="167.90" font-size="8.4" text-anchor="middle" fill="#222">150</text>
<text x="212.95" y="167.90" font-size="8.4" text-anchor="middle" fill="#222">200</text>
<line x1="28.50" y1="149.06" x2="31.90" y2="149.06" stroke="#404040" stroke-width="1"/>
<text x="24.90" y="151.96" font-size="8.4" text-anchor="end" fill="#222">-40</text>
<line x1="28.50" y1="131.57" x2="31.90" y2="131.57" stroke="#404040" stroke-width="1"/>
<text x="24.90" y="134.47" font-size="8.4" text-anchor="end" fill="#222">-30</text>
<line x1="28.50" y1="114.08" x2="31.90" y2="114.08" stroke="#404040" stroke-width="1"/>
<text x="24.90" y="116.98" font-size="8.4" text-anchor="end" fill="#222">-20</text>
<line x1="28.50" y1="96.59" x2="31.90" y2="96.59" stroke="#404040" stroke-width="1"/>
<text x="24.90" y="99.49" font-size="8.4" text-anchor="end" fill="#222">-10</text>
<line x1="28.50" y1="79.10" x2="31.90" y2="79.10" stroke="#404040" stroke-width="1"/>
<text x="24.90" y="82.00" font-size="8.4" text-anchor="end" fill="#222">0</text>
<line x1="28.50" y1="61.61" x2="31.90" y2="61.61" stroke="#404040" stroke-width="1"/>
<text x="24.90" y="64.51" font-size="8.4" text-anchor="end" fill="#222">10</text>
<line x1="28.50" y1="44.12" x2="31.90" y2="44.12" stroke="#404040" stroke-width="1"/>
<text x="24.90" y="47.02" font-size="8.4" text-anchor="end" fill="#222">20</text>
<line x1="28.50" y1="26.63" x2="31.90" y2="26.63" stroke="#404040" stroke-width="1"/>
<text x="24.90" y="29.53" font-size="8.4" text-anchor="end" fill="#222">30</text>
<line x1="28.50" y1="9.14" x2="31.90" y2="9.14" stroke="#404040" stroke-width="1"/>
<text x="24.90" y="12.04" font-size="8.4" text-anchor="end" fill="#222">40</text>
<line x1="28.50" y1="157.80" x2="30.40" y2="157.80" stroke="#404040" stroke-width="1"/>
<line x1="28.50" y1="140.31" x2="30.40" y2="140.31" stroke="#404040" stroke-width="1"/>
<line x1="28.50" y1="122.82" x2="30.40" y2="122.82" stroke="#404040" stroke-width="1"/>
<line x1="28.50" y1="105.33" x2="30.40" y2="105.33" stroke="#404040" stroke-width="1"/>
<line x1="28.50" y1="87.84" x2="30.40" y2="87.84" stroke="#404040" stroke-width="1"/>
<line x1="28.50" y1="70.36" x2="30.40" y2="70.36" stroke="#404040" stroke-width="1"/>
<line x1="28.50" y1="52.87" x2="30.40" y2="52.87" stroke="#404040" stroke-width="1"/>
<line x1="28.50" y1="35.38" x2="30.40" y2="35.38" stroke="#404040" stroke-width="1"/>
<line x1="28.50" y1="17.89" x2="30.40" y2="17.89" stroke="#404040" stroke-width="1"/>
<line x1="28.50" y1="0.40" x2="30.40" y2="0.40" stroke="#404040" stroke-width="1"/>
<text x="126.15" y="183.40" font-size="10.5" fill="#222" stroke="#222" stroke-width="0.15" text-anchor="middle" >Electric field (MV/m)</text>
<text transform="translate(10.00,79.20) rotate(-90)" font-size="10.5" text-anchor="middle" fill="#222" stroke="#222" stroke-width="0.15">Polarization (mC/m<tspan dy="-3.5" font-size="7">2</tspan><tspan dy="3.5">)</tspan></text>
<text x="2.00" y="11.80" font-size="15.5" fill="#222" stroke="#222" stroke-width="0.15" text-anchor="start" >a</text>
<text x="33.70" y="13.50" font-size="8.15" fill="#f7953e" stroke="#f7953e" stroke-width="0.15" text-anchor="start" >unannealed</text>
<text x="33.70" y="23.25" font-size="8.15" fill="#f7953e" stroke="#f7953e" stroke-width="0.15" text-anchor="start" >thickness: 12 μm</text>
<text x="33.70" y="33.00" font-size="8.15" fill="#f7953e" stroke="#f7953e" stroke-width="0.15" text-anchor="start" >max voltage: 0 ~ 2000 V</text>
<line x1="356.52" y1="0.4" x2="356.52" y2="157.8" stroke="#999" stroke-width="0.8"/>
<line x1="256.0" y1="79.10" x2="451.4" y2="79.10" stroke="#999" stroke-width="0.8"/>
<path d="M356.52,79.62 L356.91,79.60 L357.29,79.58 L357.68,79.55 L358.07,79.52 L358.46,79.49 L358.85,79.46 L359.24,79.42 L359.63,79.39 L360.02,79.35 L360.40,79.31 L360.79,79.27 L361.18,79.22 L361.57,79.18 L361.96,79.13 L362.35,79.08 L362.74,79.03 L363.12,78.98 L363.51,78.93 L363.90,78.87 L364.29,78.82 L364.68,78.76 L365.07,78.70 L365.46,78.64 L365.85,78.58 L366.23,78.52 L366.62,78.45 L367.01,78.39 L367.40,78.32 L367.79,78.25 L368.18,78.18 L368.57,78.11 L368.96,78.04 L369.34,77.97 L369.73,77.89 L370.12,77.82 L370.51,77.74 L370.90,77.67 L371.29,77.59 L371.68,77.51 L372.06,77.43 L372.45,77.35 L372.84,77.27 L373.23,77.19 L373.62,77.10 L374.01,77.02 L374.40,76.93 L374.79,76.85 L375.17,76.76 L375.56,76.68 L375.95,76.59 L376.34,76.50 L376.73,76.42 L377.12,76.33 L377.51,76.24 L377.90,76.15 L378.28,76.06 L378.67,75.97 L379.06,75.88 L379.45,75.79 L379.84,75.70 L380.23,75.60 L380.62,75.51 L381.01,75.41 L381.39,75.31 L381.78,75.21 L382.17,75.10 L382.56,74.99 L382.95,74.88 L383.34,74.76 L383.73,74.64 L384.11,74.52 L384.50,74.39 L384.89,74.26 L385.28,74.13 L385.67,74.00 L386.06,73.86 L386.45,73.73 L386.84,73.59 L387.22,73.45 L387.61,73.30 L388.00,73.16 L388.39,73.01 L388.78,72.86 L389.17,72.71 L389.56,72.56 L389.95,72.41 L390.33,72.26 L390.72,72.10 L391.11,71.95 L391.50,71.79 L391.89,71.64 L392.28,71.48 L392.67,71.32 L393.05,71.17 L393.44,71.01 L393.83,70.85 L394.22,70.70 L394.61,70.54 L395.00,70.38 L395.39,70.22 L395.78,70.06 L396.16,69.90 L396.55,69.74 L396.94,69.57 L397.33,69.40 L397.72,69.23 L398.11,69.06 L398.50,68.88 L398.89,68.70 L399.27,68.52 L399.66,68.34 L400.05,68.16 L400.44,67.98 L400.83,67.80 L401.22,67.61 L401.61,67.42 L401.99,67.24 L402.38,67.05 L402.77,66.86 L402.77,66.51 L401.99,66.58 L401.22,66.66 L400.44,66.73 L399.66,66.81 L398.89,66.90 L398.11,66.98 L397.33,67.07 L396.55,67.16 L395.78,67.26 L395.00,67.35 L394.22,67.45 L393.44,67.55 L392.67,67.66 L391.89,67.76 L391.11,67.87 L390.33,67.98 L389.56,68.09 L388.78,68.21 L388.00,68.32 L387.22,68.44 L386.45,68.56 L385.67,68.69 L384.89,68.81 L384.11,68.94 L383.34,69.08 L382.56,69.22 L381.78,69.36 L381.01,69.50 L380.23,69.65 L379.45,69.80 L378.67,69.95 L377.90,70.11 L377.12,70.27 L376.34,70.44 L375.56,70.60 L374.79,70.77 L374.01,70.94 L373.23,71.11 L372.45,71.29 L371.68,71.47 L370.90,71.65 L370.12,71.83 L369.34,72.01 L368.57,72.20 L367.79,72.39 L367.01,72.58 L366.23,72.77 L365.46,72.96 L364.68,73.15 L363.90,73.35 L363.12,73.55 L362.35,73.74 L361.57,73.94 L360.79,74.14 L360.02,74.34 L359.24,74.54 L358.46,74.75 L357.68,74.95 L356.91,75.15 L356.13,75.35 L355.35,75.56 L354.57,75.77 L353.80,75.98 L353.02,76.19 L352.24,76.41 L351.46,76.62 L350.69,76.85 L349.91,77.07 L349.13,77.29 L348.35,77.52 L347.58,77.75 L346.80,77.98 L346.02,78.22 L345.24,78.46 L344.47,78.69 L343.69,78.94 L342.91,79.18 L342.13,79.43 L341.36,79.68 L340.58,79.93 L339.80,80.19 L339.03,80.44 L338.25,80.70 L337.47,80.97 L336.69,81.23 L335.92,81.50 L335.14,81.77 L334.36,82.04 L333.58,82.32 L332.81,82.59 L332.03,82.88 L331.25,83.18 L330.47,83.49 L329.70,83.80 L328.92,84.13 L328.14,84.45 L327.36,84.79 L326.59,85.12 L325.81,85.45 L325.03,85.78 L324.25,86.11 L323.48,86.43 L322.70,86.74 L321.92,87.05 L321.14,87.35 L320.37,87.65 L319.59,87.94 L318.81,88.24 L318.04,88.53 L317.26,88.82 L316.48,89.11 L315.70,89.40 L314.93,89.68 L314.15,89.96 L313.37,90.24 L312.59,90.52 L311.82,90.80 L311.04,91.07 L310.26,91.34 L310.26,91.34 L355.92,82.95" fill="none" stroke="#2f7d8a" stroke-width="1.0" stroke-linejoin="round" stroke-linecap="round"/>
<path d="M356.52,82.42 L356.96,82.40 L357.39,82.38 L357.83,82.35 L358.27,82.32 L358.71,82.29 L359.15,82.26 L359.59,82.22 L360.03,82.18 L360.46,82.14 L360.90,82.10 L361.34,82.05 L361.78,82.00 L362.22,81.95 L362.66,81.90 L363.09,81.85 L363.53,81.79 L363.97,81.73 L364.41,81.67 L364.85,81.61 L365.29,81.55 L365.73,81.48 L366.16,81.42 L366.60,81.35 L367.04,81.28 L367.48,81.21 L367.92,81.14 L368.36,81.06 L368.80,80.99 L369.23,80.91 L369.67,80.84 L370.11,80.76 L370.55,80.68 L370.99,80.60 L371.43,80.52 L371.87,80.44 L372.30,80.36 L372.74,80.27 L373.18,80.19 L373.62,80.11 L374.06,80.02 L374.50,79.94 L374.94,79.85 L375.37,79.76 L375.81,79.67 L376.25,79.57 L376.69,79.47 L377.13,79.36 L377.57,79.26 L378.01,79.15 L378.44,79.03 L378.88,78.92 L379.32,78.80 L379.76,78.67 L380.20,78.54 L380.64,78.41 L381.07,78.28 L381.51,78.14 L381.95,78.00 L382.39,77.86 L382.83,77.71 L383.27,77.56 L383.71,77.41 L384.14,77.25 L384.58,77.09 L385.02,76.92 L385.46,76.75 L385.90,76.58 L386.34,76.41 L386.78,76.22 L387.21,76.02 L387.65,75.81 L388.09,75.59 L388.53,75.36 L388.97,75.12 L389.41,74.87 L389.85,74.61 L390.28,74.35 L390.72,74.08 L391.16,73.80 L391.60,73.52 L392.04,73.24 L392.48,72.95 L392.92,72.66 L393.35,72.37 L393.79,72.08 L394.23,71.78 L394.67,71.49 L395.11,71.20 L395.55,70.91 L395.99,70.60 L396.42,70.29 L396.86,69.98 L397.30,69.66 L397.74,69.33 L398.18,69.00 L398.62,68.67 L399.05,68.33 L399.49,67.99 L399.93,67.65 L400.37,67.31 L400.81,66.97 L401.25,66.63 L401.69,66.29 L402.12,65.95 L402.56,65.62 L403.00,65.28 L403.44,64.95 L403.88,64.62 L404.32,64.28 L404.76,63.95 L405.19,63.61 L405.63,63.28 L406.07,62.94 L406.51,62.60 L406.95,62.27 L407.39,61.93 L407.83,61.59 L408.26,61.25 L408.70,60.91 L408.70,60.91 L407.82,60.73 L406.94,60.57 L406.06,60.43 L405.18,60.32 L404.30,60.25 L403.42,60.21 L402.54,60.22 L401.65,60.26 L400.77,60.34 L399.89,60.44 L399.01,60.56 L398.13,60.71 L397.25,60.88 L396.37,61.07 L395.49,61.27 L394.61,61.49 L393.72,61.71 L392.84,61.94 L391.96,62.18 L391.08,62.42 L390.20,62.66 L389.32,62.89 L388.44,63.12 L387.56,63.34 L386.68,63.56 L385.80,63.81 L384.91,64.08 L384.03,64.36 L383.15,64.66 L382.27,64.97 L381.39,65.29 L380.51,65.62 L379.63,65.95 L378.75,66.29 L377.87,66.62 L376.98,66.96 L376.10,67.29 L375.22,67.61 L374.34,67.93 L373.46,68.23 L372.58,68.51 L371.70,68.78 L370.82,69.04 L369.94,69.26 L369.05,69.47 L368.17,69.65 L367.29,69.80 L366.41,69.92 L365.53,70.02 L364.65,70.11 L363.77,70.19 L362.89,70.26 L362.01,70.33 L361.13,70.39 L360.24,70.46 L359.36,70.54 L358.48,70.63 L357.60,70.73 L356.72,70.85 L355.84,71.00 L354.96,71.18 L354.08,71.40 L353.20,71.66 L352.31,71.94 L351.43,72.26 L350.55,72.60 L349.67,72.96 L348.79,73.34 L347.91,73.74 L347.03,74.16 L346.15,74.58 L345.27,75.01 L344.39,75.45 L343.50,75.90 L342.62,76.34 L341.74,76.78 L340.86,77.21 L339.98,77.64 L339.10,78.05 L338.22,78.46 L337.34,78.87 L336.46,79.28 L335.57,79.70 L334.69,80.12 L333.81,80.55 L332.93,80.99 L332.05,81.43 L331.17,81.88 L330.29,82.33 L329.41,82.78 L328.53,83.24 L327.65,83.71 L326.76,84.18 L325.88,84.66 L325.00,85.14 L324.12,85.62 L323.24,86.11 L322.36,86.61 L321.48,87.11 L320.60,87.61 L319.72,88.12 L318.83,88.64 L317.95,89.16 L317.07,89.69 L316.19,90.22 L315.31,90.75 L314.43,91.29 L313.55,91.84 L312.67,92.39 L311.79,92.94 L310.91,93.50 L310.02,94.07 L309.14,94.64 L308.26,95.21 L307.38,95.79 L306.50,96.38 L305.62,96.97 L304.74,97.56 L303.86,98.16 L303.86,98.16 L355.92,88.89" fill="none" stroke="#2d8899" stroke-width="1.0" stroke-linejoin="round" stroke-linecap="round"/>
<path d="M356.52,86.27 L357.00,86.27 L357.48,86.26 L357.97,86.25 L358.45,86.23 L358.93,86.20 L359.42,86.17 L359.90,86.14 L360.38,86.10 L360.87,86.06 L361.35,86.01 L361.83,85.96 L362.32,85.90 L362.80,85.84 L363.28,85.78 L363.77,85.71 L364.25,85.64 L364.73,85.57 L365.22,85.49 L365.70,85.41 L366.18,85.33 L366.67,85.25 L367.15,85.16 L367.63,85.07 L368.12,84.98 L368.60,84.88 L369.08,84.79 L369.57,84.69 L370.05,84.59 L370.54,84.49 L371.02,84.39 L371.50,84.29 L371.99,84.18 L372.47,84.08 L372.95,83.98 L373.44,83.87 L373.92,83.76 L374.40,83.65 L374.89,83.52 L375.37,83.39 L375.85,83.25 L376.34,83.10 L376.82,82.94 L377.30,82.77 L377.79,82.60 L378.27,82.42 L378.75,82.23 L379.24,82.03 L379.72,81.83 L380.20,81.62 L380.69,81.41 L381.17,81.18 L381.65,80.96 L382.14,80.72 L382.62,80.48 L383.10,80.24 L383.59,79.99 L384.07,79.73 L384.55,79.47 L385.04,79.21 L385.52,78.94 L386.00,78.67 L386.49,78.39 L386.97,78.09 L387.45,77.77 L387.94,77.43 L388.42,77.07 L388.90,76.70 L389.39,76.31 L389.87,75.91 L390.35,75.50 L390.84,75.07 L391.32,74.64 L391.80,74.19 L392.29,73.75 L392.77,73.29 L393.25,72.83 L393.74,72.37 L394.22,71.91 L394.70,71.44 L395.19,70.98 L395.67,70.52 L396.15,70.05 L396.64,69.56 L397.12,69.07 L397.60,68.56 L398.09,68.04 L398.57,67.52 L399.05,66.99 L399.54,66.46 L400.02,65.93 L400.50,65.40 L400.99,64.87 L401.47,64.36 L401.96,63.84 L402.44,63.32 L402.92,62.79 L403.41,62.26 L403.89,61.73 L404.37,61.20 L404.86,60.66 L405.34,60.14 L405.82,59.61 L406.31,59.10 L406.79,58.59 L407.27,58.10 L407.76,57.62 L408.24,57.15 L408.72,56.70 L409.21,56.26 L409.69,55.83 L410.17,55.40 L410.66,54.99 L411.14,54.59 L411.62,54.19 L412.11,53.80 L412.59,53.42 L413.07,53.05 L413.56,52.69 L414.04,52.34 L414.45,52.34 L413.48,51.86 L412.51,51.42 L411.53,51.15 L410.56,51.12 L409.58,51.13 L408.61,51.16 L407.63,51.20 L406.66,51.25 L405.68,51.30 L404.71,51.36 L403.73,51.43 L402.76,51.50 L401.78,51.61 L400.81,51.75 L399.83,51.93 L398.86,52.14 L397.88,52.37 L396.91,52.62 L395.93,52.90 L394.96,53.18 L393.99,53.48 L393.01,53.79 L392.04,54.10 L391.06,54.41 L390.09,54.72 L389.11,55.02 L388.14,55.30 L387.16,55.58 L386.19,55.85 L385.21,56.13 L384.24,56.41 L383.26,56.70 L382.29,56.99 L381.31,57.28 L380.34,57.57 L379.36,57.87 L378.39,58.17 L377.41,58.47 L376.44,58.77 L375.47,59.07 L374.49,59.37 L373.52,59.67 L372.54,59.97 L371.57,60.27 L370.59,60.56 L369.62,60.85 L368.64,61.13 L367.67,61.41 L366.69,61.68 L365.72,61.96 L364.74,62.24 L363.77,62.52 L362.79,62.81 L361.82,63.11 L360.84,63.41 L359.87,63.73 L358.89,64.06 L357.92,64.41 L356.94,64.77 L355.97,65.15 L355.00,65.56 L354.02,65.99 L353.05,66.44 L352.07,66.91 L351.10,67.40 L350.12,67.91 L349.15,68.43 L348.17,68.96 L347.20,69.50 L346.22,70.06 L345.25,70.62 L344.27,71.18 L343.30,71.75 L342.32,72.31 L341.35,72.88 L340.37,73.44 L339.40,74.00 L338.42,74.56 L337.45,75.10 L336.48,75.64 L335.50,76.18 L334.53,76.72 L333.55,77.26 L332.58,77.81 L331.60,78.36 L330.63,78.93 L329.65,79.50 L328.68,80.08 L327.70,80.68 L326.73,81.30 L325.75,81.94 L324.78,82.59 L323.80,83.28 L322.83,83.97 L321.85,84.69 L320.88,85.42 L319.90,86.16 L318.93,86.92 L317.96,87.70 L316.98,88.49 L316.01,89.30 L315.03,90.12 L314.06,90.95 L313.08,91.80 L312.11,92.67 L311.13,93.55 L310.16,94.45 L309.18,95.36 L308.21,96.29 L307.23,97.23 L306.26,98.19 L305.28,99.16 L304.31,100.15 L303.33,101.15 L302.36,102.17 L301.38,103.20 L300.41,104.24 L299.43,105.31 L298.46,106.38 L298.46,106.38 L355.92,95.54" fill="none" stroke="#2e98ad" stroke-width="1.0" stroke-linejoin="round" stroke-linecap="round"/>
<path d="M356.52,93.44 L357.05,93.40 L357.58,93.35 L358.12,93.28 L358.65,93.21 L359.18,93.14 L359.72,93.05 L360.25,92.95 L360.78,92.85 L361.32,92.74 L361.85,92.62 L362.38,92.50 L362.92,92.36 L363.45,92.23 L363.98,92.08 L364.52,91.93 L365.05,91.78 L365.58,91.62 L366.11,91.45 L366.65,91.28 L367.18,91.10 L367.71,90.92 L368.25,90.74 L368.78,90.55 L369.31,90.36 L369.85,90.17 L370.38,89.97 L370.91,89.77 L371.45,89.57 L371.98,89.37 L372.51,89.16 L373.05,88.96 L373.58,88.75 L374.11,88.53 L374.65,88.31 L375.18,88.06 L375.71,87.81 L376.25,87.54 L376.78,87.26 L377.31,86.97 L377.85,86.66 L378.38,86.35 L378.91,86.02 L379.45,85.69 L379.98,85.34 L380.51,84.99 L381.04,84.63 L381.58,84.26 L382.11,83.89 L382.64,83.50 L383.18,83.12 L383.71,82.72 L384.24,82.32 L384.78,81.92 L385.31,81.51 L385.84,81.10 L386.38,80.68 L386.91,80.25 L387.44,79.80 L387.98,79.33 L388.51,78.84 L389.04,78.33 L389.58,77.82 L390.11,77.29 L390.64,76.75 L391.18,76.20 L391.71,75.65 L392.24,75.08 L392.78,74.52 L393.31,73.95 L393.84,73.38 L394.38,72.81 L394.91,72.23 L395.44,71.65 L395.98,71.05 L396.51,70.45 L397.04,69.84 L397.57,69.21 L398.11,68.58 L398.64,67.94 L399.17,67.28 L399.71,66.62 L400.24,65.94 L400.77,65.24 L401.31,64.52 L401.84,63.78 L402.37,63.01 L402.91,62.24 L403.44,61.45 L403.97,60.66 L404.51,59.87 L405.04,59.08 L405.57,58.29 L406.11,57.52 L406.64,56.76 L407.17,56.02 L407.71,55.27 L408.24,54.51 L408.77,53.75 L409.31,53.00 L409.84,52.25 L410.37,51.50 L410.91,50.78 L411.44,50.07 L411.97,49.38 L412.50,48.71 L413.04,48.08 L413.57,47.48 L414.10,46.90 L414.64,46.33 L415.17,45.78 L415.70,45.24 L416.24,44.71 L416.77,44.20 L417.30,43.71 L417.84,43.23 L418.37,42.77 L418.90,42.33 L419.44,41.90 L419.97,41.50 L419.97,41.50 L418.90,40.88 L417.83,40.30 L416.76,39.89 L415.69,39.75 L414.62,39.77 L413.55,39.83 L412.48,39.92 L411.41,40.03 L410.34,40.16 L409.27,40.31 L408.20,40.48 L407.12,40.66 L406.05,40.84 L404.98,41.02 L403.91,41.20 L402.84,41.38 L401.77,41.57 L400.70,41.78 L399.63,42.01 L398.56,42.24 L397.49,42.50 L396.42,42.76 L395.35,43.03 L394.28,43.31 L393.21,43.60 L392.14,43.89 L391.07,44.19 L390.00,44.48 L388.93,44.78 L387.86,45.07 L386.79,45.36 L385.72,45.65 L384.65,45.94 L383.58,46.24 L382.51,46.55 L381.43,46.85 L380.36,47.17 L379.29,47.48 L378.22,47.81 L377.15,48.13 L376.08,48.47 L375.01,48.81 L373.94,49.16 L372.87,49.51 L371.80,49.88 L370.73,50.25 L369.66,50.62 L368.59,50.99 L367.52,51.38 L366.45,51.76 L365.38,52.16 L364.31,52.57 L363.24,52.99 L362.17,53.43 L361.10,53.88 L360.03,54.34 L358.96,54.83 L357.89,55.34 L356.81,55.86 L355.74,56.42 L354.67,57.04 L353.60,57.70 L352.53,58.39 L351.46,59.12 L350.39,59.88 L349.32,60.65 L348.25,61.43 L347.18,62.21 L346.11,62.99 L345.04,63.76 L343.97,64.55 L342.90,65.35 L341.83,66.16 L340.76,66.98 L339.69,67.82 L338.62,68.68 L337.55,69.55 L336.48,70.43 L335.41,71.33 L334.34,72.23 L333.27,73.15 L332.20,74.09 L331.12,75.05 L330.05,76.04 L328.98,77.07 L327.91,78.15 L326.84,79.29 L325.77,80.56 L324.70,81.91 L323.63,83.30 L322.56,84.67 L321.49,85.96 L320.42,87.22 L319.35,88.46 L318.28,89.70 L317.21,90.94 L316.14,92.17 L315.07,93.39 L314.00,94.61 L312.93,95.83 L311.86,97.03 L310.79,98.23 L309.72,99.42 L308.65,100.61 L307.58,101.79 L306.50,102.95 L305.43,104.11 L304.36,105.26 L303.29,106.40 L302.22,107.54 L301.15,108.66 L300.08,109.77 L299.01,110.87 L297.94,111.96 L296.87,113.04 L295.80,114.10 L294.73,115.16 L293.66,116.20 L292.59,117.23 L292.59,117.23 L355.92,103.41" fill="none" stroke="#34a9bf" stroke-width="1.0" stroke-linejoin="round" stroke-linecap="round"/>
<path d="M356.52,100.44 L357.10,100.39 L357.68,100.33 L358.27,100.26 L358.85,100.18 L359.43,100.09 L360.02,99.99 L360.60,99.88 L361.18,99.76 L361.76,99.64 L362.35,99.50 L362.93,99.36 L363.51,99.20 L364.10,99.05 L364.68,98.88 L365.26,98.71 L365.85,98.53 L366.43,98.34 L367.01,98.15 L367.59,97.96 L368.18,97.76 L368.76,97.56 L369.34,97.35 L369.93,97.14 L370.51,96.92 L371.09,96.70 L371.68,96.48 L372.26,96.26 L372.84,96.03 L373.43,95.80 L374.01,95.57 L374.59,95.33 L375.17,95.07 L375.76,94.80 L376.34,94.51 L376.92,94.22 L377.51,93.90 L378.09,93.58 L378.67,93.24 L379.26,92.89 L379.84,92.53 L380.42,92.15 L381.01,91.76 L381.59,91.36 L382.17,90.95 L382.75,90.53 L383.34,90.10 L383.92,89.65 L384.50,89.20 L385.09,88.73 L385.67,88.26 L386.25,87.77 L386.84,87.26 L387.42,86.71 L388.00,86.13 L388.58,85.52 L389.17,84.87 L389.75,84.20 L390.33,83.50 L390.92,82.78 L391.50,82.04 L392.08,81.28 L392.67,80.50 L393.25,79.70 L393.83,78.89 L394.42,78.05 L395.00,77.14 L395.58,76.18 L396.16,75.17 L396.75,74.14 L397.33,73.09 L397.91,72.05 L398.50,71.04 L399.08,70.07 L399.66,69.12 L400.25,68.19 L400.83,67.26 L401.41,66.33 L401.99,65.38 L402.58,64.41 L403.16,63.41 L403.74,62.35 L404.33,61.20 L404.91,60.00 L405.49,58.80 L406.08,57.69 L406.66,56.68 L407.24,55.73 L407.83,54.81 L408.41,53.93 L408.99,53.07 L409.57,52.25 L410.16,51.45 L410.74,50.68 L411.32,49.93 L411.91,49.21 L412.49,48.52 L413.07,47.85 L413.66,47.20 L414.24,46.57 L414.82,45.95 L415.41,45.33 L415.99,44.71 L416.57,44.09 L417.15,43.47 L417.74,42.83 L418.32,42.17 L418.90,41.50 L419.49,40.81 L420.07,40.11 L420.65,39.40 L421.24,38.69 L421.82,37.97 L422.40,37.24 L422.98,36.51 L423.57,35.77 L424.15,35.02 L424.73,34.27 L425.32,33.52 L425.90,32.75 L425.90,31.88 L424.73,31.68 L423.56,31.51 L422.39,31.37 L421.22,31.27 L420.05,31.20 L418.88,31.18 L417.71,31.20 L416.54,31.27 L415.37,31.38 L414.20,31.52 L413.03,31.69 L411.86,31.88 L410.69,32.10 L409.52,32.33 L408.35,32.57 L407.18,32.81 L406.01,33.06 L404.84,33.30 L403.67,33.54 L402.50,33.76 L401.33,34.00 L400.16,34.25 L398.99,34.51 L397.82,34.79 L396.65,35.07 L395.48,35.36 L394.31,35.66 L393.14,35.96 L391.97,36.27 L390.80,36.58 L389.63,36.89 L388.46,37.21 L387.29,37.53 L386.12,37.85 L384.95,38.17 L383.78,38.50 L382.61,38.84 L381.44,39.18 L380.27,39.52 L379.10,39.87 L377.93,40.23 L376.76,40.59 L375.59,40.96 L374.42,41.33 L373.25,41.71 L372.08,42.09 L370.91,42.48 L369.74,42.86 L368.57,43.24 L367.40,43.63 L366.23,44.02 L365.06,44.42 L363.89,44.82 L362.72,45.24 L361.55,45.68 L360.37,46.13 L359.20,46.61 L358.03,47.11 L356.86,47.63 L355.69,48.19 L354.52,48.80 L353.35,49.46 L352.18,50.15 L351.01,50.88 L349.84,51.64 L348.67,52.43 L347.50,53.25 L346.33,54.08 L345.16,54.94 L343.99,55.84 L342.82,56.77 L341.65,57.74 L340.48,58.75 L339.31,59.80 L338.14,60.88 L336.97,62.00 L335.80,63.15 L334.63,64.31 L333.46,65.50 L332.29,66.73 L331.12,68.04 L329.95,69.43 L328.78,70.93 L327.61,72.58 L326.44,74.40 L325.27,76.47 L324.10,78.81 L322.93,81.43 L321.76,84.50 L320.59,88.80 L319.42,93.01 L318.25,95.60 L317.08,97.64 L315.91,99.63 L314.74,101.57 L313.57,103.45 L312.40,105.27 L311.23,107.03 L310.06,108.72 L308.89,110.36 L307.72,111.92 L306.55,113.42 L305.38,114.85 L304.21,116.21 L303.04,117.50 L301.87,118.71 L300.70,119.84 L299.53,120.89 L298.36,121.86 L297.19,122.75 L296.02,123.55 L294.85,124.27 L293.68,124.89 L292.51,125.43 L291.34,125.87 L290.17,126.22 L289.00,126.47 L287.83,126.62 L286.66,126.67 L286.66,126.67 L355.92,109.88" fill="none" stroke="#3ab6cc" stroke-width="1.0" stroke-linejoin="round" stroke-linecap="round"/>
<path d="M356.52,106.73 L357.15,106.70 L357.78,106.65 L358.42,106.59 L359.05,106.52 L359.68,106.43 L360.31,106.34 L360.95,106.24 L361.58,106.12 L362.21,106.00 L362.85,105.87 L363.48,105.73 L364.11,105.58 L364.74,105.43 L365.38,105.27 L366.01,105.10 L366.64,104.93 L367.28,104.75 L367.91,104.56 L368.54,104.37 L369.17,104.18 L369.81,103.98 L370.44,103.78 L371.07,103.57 L371.71,103.36 L372.34,103.15 L372.97,102.94 L373.60,102.73 L374.24,102.51 L374.87,102.27 L375.50,102.03 L376.14,101.76 L376.77,101.49 L377.40,101.20 L378.03,100.89 L378.67,100.58 L379.30,100.24 L379.93,99.90 L380.57,99.54 L381.20,99.16 L381.83,98.77 L382.47,98.37 L383.10,97.95 L383.73,97.52 L384.36,97.07 L385.00,96.61 L385.63,96.13 L386.26,95.64 L386.90,95.11 L387.53,94.53 L388.16,93.91 L388.79,93.25 L389.43,92.54 L390.06,91.79 L390.69,91.00 L391.33,90.18 L391.96,89.32 L392.59,88.43 L393.22,87.52 L393.86,86.57 L394.49,85.58 L395.12,84.48 L395.76,83.29 L396.39,82.02 L397.02,80.69 L397.65,79.33 L398.29,77.95 L398.92,76.56 L399.55,75.10 L400.19,73.56 L400.82,71.99 L401.45,70.41 L402.08,68.87 L402.72,67.41 L403.35,66.00 L403.98,64.61 L404.62,63.25 L405.25,61.94 L405.88,60.70 L406.51,59.53 L407.15,58.44 L407.78,57.41 L408.41,56.42 L409.05,55.46 L409.68,54.50 L410.31,53.54 L410.95,52.55 L411.58,51.53 L412.21,50.49 L412.84,49.44 L413.48,48.38 L414.11,47.31 L414.74,46.25 L415.38,45.19 L416.01,44.14 L416.64,43.11 L417.27,42.09 L417.91,41.09 L418.54,40.12 L419.17,39.17 L419.81,38.23 L420.44,37.31 L421.07,36.39 L421.70,35.49 L422.34,34.59 L422.97,33.71 L423.60,32.85 L424.24,32.00 L424.87,31.16 L425.50,30.34 L426.13,29.54 L426.77,28.76 L427.40,28.00 L428.03,27.25 L428.67,26.52 L429.30,25.81 L429.93,25.12 L430.56,24.44 L431.20,23.78 L431.83,23.14 L431.83,22.61 L430.56,22.62 L429.29,22.64 L428.02,22.67 L426.75,22.71 L425.48,22.77 L424.21,22.83 L422.95,22.89 L421.68,22.97 L420.41,23.04 L419.14,23.12 L417.87,23.21 L416.60,23.32 L415.33,23.46 L414.06,23.62 L412.79,23.80 L411.52,24.00 L410.25,24.22 L408.98,24.44 L407.71,24.68 L406.45,24.93 L405.18,25.18 L403.91,25.44 L402.64,25.70 L401.37,26.00 L400.10,26.33 L398.83,26.70 L397.56,27.09 L396.29,27.49 L395.02,27.91 L393.75,28.33 L392.48,28.75 L391.21,29.17 L389.94,29.57 L388.68,29.96 L387.41,30.32 L386.14,30.67 L384.87,30.99 L383.60,31.31 L382.33,31.62 L381.06,31.93 L379.79,32.23 L378.52,32.54 L377.25,32.85 L375.98,33.17 L374.71,33.50 L373.44,33.84 L372.18,34.21 L370.91,34.58 L369.64,34.97 L368.37,35.37 L367.10,35.78 L365.83,36.20 L364.56,36.63 L363.29,37.08 L362.02,37.54 L360.75,38.02 L359.48,38.52 L358.21,39.03 L356.94,39.57 L355.67,40.12 L354.41,40.70 L353.14,41.31 L351.87,41.95 L350.60,42.61 L349.33,43.31 L348.06,44.03 L346.79,44.79 L345.52,45.58 L344.25,46.41 L342.98,47.27 L341.71,48.16 L340.44,49.10 L339.17,50.08 L337.90,51.12 L336.64,52.24 L335.37,53.44 L334.10,54.74 L332.83,56.15 L331.56,57.67 L330.29,59.36 L329.02,61.35 L327.75,63.78 L326.48,66.89 L325.21,71.83 L323.94,77.62 L322.67,83.33 L321.40,88.95 L320.14,93.40 L318.87,97.40 L317.60,101.03 L316.33,104.38 L315.06,107.55 L313.79,110.67 L312.52,113.57 L311.25,116.06 L309.98,117.94 L308.71,119.46 L307.44,120.81 L306.17,122.02 L304.90,123.11 L303.63,124.10 L302.37,125.02 L301.10,125.90 L299.83,126.75 L298.56,127.57 L297.29,128.35 L296.02,129.09 L294.75,129.80 L293.48,130.48 L292.21,131.12 L290.94,131.74 L289.67,132.33 L288.40,132.89 L287.13,133.44 L285.87,133.96 L284.60,134.45 L283.33,134.92 L282.06,135.35 L280.79,135.76 L280.79,135.76 L355.92,116.88" fill="none" stroke="#f9a457" stroke-width="1.0" stroke-linejoin="round" stroke-linecap="round"/>
<path d="M356.52,113.20 L357.20,113.15 L357.88,113.09 L358.57,113.01 L359.25,112.92 L359.93,112.82 L360.61,112.71 L361.30,112.58 L361.98,112.45 L362.66,112.30 L363.34,112.15 L364.03,111.98 L364.71,111.81 L365.39,111.63 L366.07,111.44 L366.76,111.25 L367.44,111.05 L368.12,110.84 L368.81,110.63 L369.49,110.41 L370.17,110.19 L370.85,109.96 L371.54,109.73 L372.22,109.50 L372.90,109.27 L373.58,109.03 L374.27,108.79 L374.95,108.53 L375.63,108.26 L376.32,107.97 L377.00,107.66 L377.68,107.34 L378.36,107.01 L379.05,106.66 L379.73,106.29 L380.41,105.91 L381.09,105.51 L381.78,105.09 L382.46,104.66 L383.14,104.21 L383.83,103.74 L384.51,103.26 L385.19,102.76 L385.87,102.24 L386.56,101.70 L387.24,101.10 L387.92,100.45 L388.60,99.75 L389.29,98.99 L389.97,98.19 L390.65,97.35 L391.34,96.46 L392.02,95.54 L392.70,94.57 L393.38,93.58 L394.07,92.55 L394.75,91.44 L395.43,90.21 L396.11,88.88 L396.80,87.48 L397.48,86.02 L398.16,84.53 L398.85,83.02 L399.53,81.44 L400.21,79.76 L400.89,78.05 L401.58,76.35 L402.26,74.72 L402.94,73.18 L403.62,71.65 L404.31,70.02 L404.99,68.20 L405.67,66.00 L406.36,63.59 L407.04,61.27 L407.72,59.33 L408.40,57.64 L409.09,56.09 L409.77,54.64 L410.45,53.25 L411.13,51.87 L411.82,50.51 L412.50,49.19 L413.18,47.89 L413.87,46.64 L414.55,45.42 L415.23,44.23 L415.91,43.09 L416.60,41.98 L417.28,40.89 L417.96,39.82 L418.64,38.77 L419.33,37.74 L420.01,36.73 L420.69,35.75 L421.38,34.79 L422.06,33.84 L422.74,32.92 L423.42,32.02 L424.11,31.13 L424.79,30.27 L425.47,29.43 L426.15,28.61 L426.84,27.81 L427.52,27.01 L428.20,26.23 L428.89,25.46 L429.57,24.70 L430.25,23.95 L430.93,23.20 L431.62,22.46 L432.30,21.72 L432.98,20.99 L433.66,20.27 L434.35,19.56 L435.03,18.86 L435.71,18.16 L436.40,17.48 L437.08,16.81 L437.76,16.14 L437.76,15.27 L436.39,14.77 L435.02,14.42 L433.65,14.40 L432.28,14.45 L430.91,14.53 L429.54,14.64 L428.17,14.77 L426.80,14.92 L425.43,15.09 L424.06,15.27 L422.69,15.46 L421.32,15.65 L419.95,15.83 L418.57,16.01 L417.20,16.19 L415.83,16.38 L414.46,16.58 L413.09,16.79 L411.72,17.01 L410.35,17.24 L408.98,17.48 L407.61,17.73 L406.24,17.99 L404.87,18.25 L403.50,18.53 L402.13,18.81 L400.76,19.11 L399.39,19.43 L398.02,19.76 L396.65,20.11 L395.28,20.47 L393.91,20.83 L392.54,21.21 L391.17,21.59 L389.80,21.97 L388.43,22.35 L387.05,22.73 L385.68,23.11 L384.31,23.49 L382.94,23.88 L381.57,24.27 L380.20,24.67 L378.83,25.07 L377.46,25.49 L376.09,25.91 L374.72,26.35 L373.35,26.79 L371.98,27.26 L370.61,27.73 L369.24,28.23 L367.87,28.73 L366.50,29.26 L365.13,29.79 L363.76,30.34 L362.39,30.90 L361.02,31.48 L359.65,32.07 L358.28,32.67 L356.91,33.28 L355.54,33.90 L354.16,34.54 L352.79,35.19 L351.42,35.86 L350.05,36.55 L348.68,37.26 L347.31,37.98 L345.94,38.73 L344.57,39.50 L343.20,40.29 L341.83,41.10 L340.46,41.92 L339.09,42.78 L337.72,43.71 L336.35,44.72 L334.98,45.83 L333.61,47.06 L332.24,48.42 L330.87,49.96 L329.50,51.68 L328.13,53.64 L326.76,55.95 L325.39,58.82 L324.02,62.59 L322.64,68.33 L321.27,74.65 L319.90,81.64 L318.53,90.03 L317.16,95.86 L315.79,100.56 L314.42,104.57 L313.05,108.25 L311.68,111.78 L310.31,115.04 L308.94,117.84 L307.57,120.03 L306.20,121.63 L304.83,123.00 L303.46,124.21 L302.09,125.27 L300.72,126.24 L299.35,127.14 L297.98,128.01 L296.61,128.90 L295.24,129.83 L293.87,130.78 L292.50,131.70 L291.13,132.59 L289.75,133.46 L288.38,134.32 L287.01,135.17 L285.64,136.02 L284.27,136.87 L282.90,137.74 L281.53,138.61 L280.16,139.48 L278.79,140.34 L277.42,141.21 L276.05,142.07 L274.68,142.93 L274.68,142.93 L355.92,123.87" fill="none" stroke="#f9a457" stroke-width="1.0" stroke-linejoin="round" stroke-linecap="round"/>
<path d="M323.72,87.49 L399.69,67.38" fill="none" stroke="#d9572a" stroke-width="1.8" stroke-linejoin="round" stroke-linecap="round"/>
<rect x="256.00" y="0.40" width="195.40" height="157.40" fill="none" stroke="#404040" stroke-width="1.2"/>
<line x1="267.56" y1="157.80" x2="267.56" y2="154.60" stroke="#404040" stroke-width="1"/>
<line x1="297.21" y1="157.80" x2="297.21" y2="154.60" stroke="#404040" stroke-width="1"/>
<line x1="326.87" y1="157.80" x2="326.87" y2="154.60" stroke="#404040" stroke-width="1"/>
<line x1="356.52" y1="157.80" x2="356.52" y2="154.60" stroke="#404040" stroke-width="1"/>
<line x1="386.17" y1="157.80" x2="386.17" y2="154.60" stroke="#404040" stroke-width="1"/>
<line x1="415.82" y1="157.80" x2="415.82" y2="154.60" stroke="#404040" stroke-width="1"/>
<line x1="445.47" y1="157.80" x2="445.47" y2="154.60" stroke="#404040" stroke-width="1"/>
<line x1="282.39" y1="157.80" x2="282.39" y2="155.90" stroke="#404040" stroke-width="1"/>
<line x1="312.04" y1="157.80" x2="312.04" y2="155.90" stroke="#404040" stroke-width="1"/>
<line x1="341.69" y1="157.80" x2="341.69" y2="155.90" stroke="#404040" stroke-width="1"/>
<line x1="371.34" y1="157.80" x2="371.34" y2="155.90" stroke="#404040" stroke-width="1"/>
<line x1="400.99" y1="157.80" x2="400.99" y2="155.90" stroke="#404040" stroke-width="1"/>
<line x1="430.64" y1="157.80" x2="430.64" y2="155.90" stroke="#404040" stroke-width="1"/>
<text x="267.56" y="167.90" font-size="8.4" text-anchor="middle" fill="#222">-150</text>
<text x="297.21" y="167.90" font-size="8.4" text-anchor="middle" fill="#222">-100</text>
<text x="326.87" y="167.90" font-size="8.4" text-anchor="middle" fill="#222">-50</text>
<text x="356.52" y="167.90" font-size="8.4" text-anchor="middle" fill="#222">0</text>
<text x="386.17" y="167.90" font-size="8.4" text-anchor="middle" fill="#222">50</text>
<text x="415.82" y="167.90" font-size="8.4" text-anchor="middle" fill="#222">100</text>
<text x="445.47" y="167.90" font-size="8.4" text-anchor="middle" fill="#222">150</text>
<line x1="256.00" y1="149.06" x2="259.40" y2="149.06" stroke="#404040" stroke-width="1"/>
<text x="252.40" y="151.96" font-size="8.4" text-anchor="end" fill="#222">-40</text>
<line x1="256.00" y1="131.57" x2="259.40" y2="131.57" stroke="#404040" stroke-width="1"/>
<text x="252.40" y="134.47" font-size="8.4" text-anchor="end" fill="#222">-30</text>
<line x1="256.00" y1="114.08" x2="259.40" y2="114.08" stroke="#404040" stroke-width="1"/>
<text x="252.40" y="116.98" font-size="8.4" text-anchor="end" fill="#222">-20</text>
<line x1="256.00" y1="96.59" x2="259.40" y2="96.59" stroke="#404040" stroke-width="1"/>
<text x="252.40" y="99.49" font-size="8.4" text-anchor="end" fill="#222">-10</text>
<line x1="256.00" y1="79.10" x2="259.40" y2="79.10" stroke="#404040" stroke-width="1"/>
<text x="252.40" y="82.00" font-size="8.4" text-anchor="end" fill="#222">0</text>
<line x1="256.00" y1="61.61" x2="259.40" y2="61.61" stroke="#404040" stroke-width="1"/>
<text x="252.40" y="64.51" font-size="8.4" text-anchor="end" fill="#222">10</text>
<line x1="256.00" y1="44.12" x2="259.40" y2="44.12" stroke="#404040" stroke-width="1"/>
<text x="252.40" y="47.02" font-size="8.4" text-anchor="end" fill="#222">20</text>
<line x1="256.00" y1="26.63" x2="259.40" y2="26.63" stroke="#404040" stroke-width="1"/>
<text x="252.40" y="29.53" font-size="8.4" text-anchor="end" fill="#222">30</text>
<line x1="256.00" y1="9.14" x2="259.40" y2="9.14" stroke="#404040" stroke-width="1"/>
<text x="252.40" y="12.04" font-size="8.4" text-anchor="end" fill="#222">40</text>
<line x1="256.00" y1="157.80" x2="257.90" y2="157.80" stroke="#404040" stroke-width="1"/>
<line x1="256.00" y1="140.31" x2="257.90" y2="140.31" stroke="#404040" stroke-width="1"/>
<line x1="256.00" y1="122.82" x2="257.90" y2="122.82" stroke="#404040" stroke-width="1"/>
<line x1="256.00" y1="105.33" x2="257.90" y2="105.33" stroke="#404040" stroke-width="1"/>
<line x1="256.00" y1="87.84" x2="257.90" y2="87.84" stroke="#404040" stroke-width="1"/>
<line x1="256.00" y1="70.36" x2="257.90" y2="70.36" stroke="#404040" stroke-width="1"/>
<line x1="256.00" y1="52.87" x2="257.90" y2="52.87" stroke="#404040" stroke-width="1"/>
<line x1="256.00" y1="35.38" x2="257.90" y2="35.38" stroke="#404040" stroke-width="1"/>
<line x1="256.00" y1="17.89" x2="257.90" y2="17.89" stroke="#404040" stroke-width="1"/>
<line x1="256.00" y1="0.40" x2="257.90" y2="0.40" stroke="#404040" stroke-width="1"/>
<text x="353.70" y="183.40" font-size="10.5" fill="#222" stroke="#222" stroke-width="0.15" text-anchor="middle" >Electric field (MV/m)</text>
<text transform="translate(237.40,79.20) rotate(-90)" font-size="10.5" text-anchor="middle" fill="#222" stroke="#222" stroke-width="0.15">Polarization (mC/m<tspan dy="-3.5" font-size="7">2</tspan><tspan dy="3.5">)</tspan></text>
<text x="231.00" y="11.80" font-size="15.5" fill="#222" stroke="#222" stroke-width="0.15" text-anchor="start" >b</text>
<text x="261.60" y="13.50" font-size="8.15" fill="#33b5cf" stroke="#33b5cf" stroke-width="0.15" text-anchor="start" >flash annealed</text>
<text x="261.60" y="23.25" font-size="8.15" fill="#33b5cf" stroke="#33b5cf" stroke-width="0.15" text-anchor="start" >thickness: 33 μm</text>
<text x="261.60" y="33.00" font-size="8.15" fill="#33b5cf" stroke="#33b5cf" stroke-width="0.15" text-anchor="start" >max voltage: 0 ~ 2000 V</text>
<path d="M549.60,34.10 L555.00,35.60 L561.00,37.00 L575.60,38.40 L588.00,38.10 L610.00,37.00 L632.10,35.70 L634.60,35.50" fill="none" stroke="#2aa8c2" stroke-width="1.15" stroke-linejoin="round" stroke-linecap="round" />
<path d="M631.30,112.20 L633.40,80.00 L634.50,50.00 L635.20,27.10 L637.00,31.00 L639.20,34.90 L650.00,34.50 L669.30,33.30" fill="none" stroke="#2aa8c2" stroke-width="1.15" stroke-linejoin="round" stroke-linecap="round" />
<path d="M542.60,107.60 L544.90,80.00 L547.50,57.00 L549.60,34.10" fill="none" stroke="#2aa8c2" stroke-width="1.15" stroke-linejoin="round" stroke-linecap="round" />
<path d="M503.20,104.30 C508.00,104.78 525.43,106.65 532.00,107.20 C538.57,107.75 537.93,107.38 542.60,107.60 C547.27,107.82 552.43,108.08 560.00,108.50 C567.57,108.92 578.60,110.08 588.00,110.10 C597.40,110.12 610.10,108.83 616.40,108.60 C622.70,108.37 623.70,108.47 625.80,108.70 C627.90,108.93 628.08,109.42 629.00,110.00 C629.92,110.58 630.92,111.83 631.30,112.20" fill="none" stroke="#2aa8c2" stroke-width="1.15" stroke-linejoin="round" stroke-linecap="round" />
<path d="M538.20,80.00 L539.00,60.00 L539.40,39.90 L542.30,43.50 L553.70,44.30 L575.60,46.20 L588.00,47.20 L616.40,46.80 L632.10,46.40 L651.00,46.10" fill="none" stroke="#f99a48" stroke-width="1.15" stroke-linejoin="round" stroke-linecap="round" />
<path d="M648.60,124.70 L650.60,80.00 L651.00,60.00 L651.70,37.30 L653.50,41.00 L657.20,45.10 L669.30,45.90" fill="none" stroke="#f99a48" stroke-width="1.15" stroke-linejoin="round" stroke-linecap="round" />
<path d="M503.20,118.30 C507.47,118.45 519.33,119.00 528.80,119.20 C538.27,119.40 550.13,119.37 560.00,119.50 C569.87,119.63 578.60,119.98 588.00,120.00 C597.40,120.02 607.22,119.52 616.40,119.60 C625.58,119.68 638.08,120.10 643.10,120.50 C648.12,120.90 645.58,121.30 646.50,122.00 C647.42,122.70 648.25,124.25 648.60,124.70" fill="none" stroke="#f99a48" stroke-width="1.15" stroke-linejoin="round" stroke-linecap="round" />
<path d="M528.80,119.20 C529.25,119.42 530.72,119.53 531.50,120.50 C532.28,121.47 532.77,122.53 533.50,125.00 C534.23,127.47 535.12,142.80 535.90,135.30 C536.68,127.80 537.82,89.22 538.20,80.00" fill="none" stroke="#f99a48" stroke-width="1.15" stroke-linejoin="round" stroke-linecap="round" />
<rect x="488.90" y="0.40" width="195.50" height="157.40" fill="none" stroke="#404040" stroke-width="1.2"/>
<line x1="502.86" y1="157.80" x2="502.86" y2="154.60" stroke="#404040" stroke-width="1"/>
<line x1="530.79" y1="157.80" x2="530.79" y2="154.60" stroke="#404040" stroke-width="1"/>
<line x1="558.72" y1="157.80" x2="558.72" y2="154.60" stroke="#404040" stroke-width="1"/>
<line x1="586.65" y1="157.80" x2="586.65" y2="154.60" stroke="#404040" stroke-width="1"/>
<line x1="614.58" y1="157.80" x2="614.58" y2="154.60" stroke="#404040" stroke-width="1"/>
<line x1="642.51" y1="157.80" x2="642.51" y2="154.60" stroke="#404040" stroke-width="1"/>
<line x1="670.44" y1="157.80" x2="670.44" y2="154.60" stroke="#404040" stroke-width="1"/>
<line x1="488.90" y1="157.80" x2="488.90" y2="155.90" stroke="#404040" stroke-width="1"/>
<line x1="516.83" y1="157.80" x2="516.83" y2="155.90" stroke="#404040" stroke-width="1"/>
<line x1="544.76" y1="157.80" x2="544.76" y2="155.90" stroke="#404040" stroke-width="1"/>
<line x1="572.69" y1="157.80" x2="572.69" y2="155.90" stroke="#404040" stroke-width="1"/>
<line x1="600.61" y1="157.80" x2="600.61" y2="155.90" stroke="#404040" stroke-width="1"/>
<line x1="628.54" y1="157.80" x2="628.54" y2="155.90" stroke="#404040" stroke-width="1"/>
<line x1="656.47" y1="157.80" x2="656.47" y2="155.90" stroke="#404040" stroke-width="1"/>
<line x1="684.40" y1="157.80" x2="684.40" y2="155.90" stroke="#404040" stroke-width="1"/>
<text x="502.86" y="167.90" font-size="8.4" text-anchor="middle" fill="#222">-30</text>
<text x="530.79" y="167.90" font-size="8.4" text-anchor="middle" fill="#222">-20</text>
<text x="558.72" y="167.90" font-size="8.4" text-anchor="middle" fill="#222">-10</text>
<text x="586.65" y="167.90" font-size="8.4" text-anchor="middle" fill="#222">0</text>
<text x="614.58" y="167.90" font-size="8.4" text-anchor="middle" fill="#222">10</text>
<text x="642.51" y="167.90" font-size="8.4" text-anchor="middle" fill="#222">20</text>
<text x="670.44" y="167.90" font-size="8.4" text-anchor="middle" fill="#222">30</text>
<line x1="488.90" y1="147.96" x2="492.30" y2="147.96" stroke="#404040" stroke-width="1"/>
<text x="485.30" y="150.86" font-size="8.4" text-anchor="end" fill="#222">-50</text>
<line x1="488.90" y1="128.29" x2="492.30" y2="128.29" stroke="#404040" stroke-width="1"/>
<text x="485.30" y="131.19" font-size="8.4" text-anchor="end" fill="#222">0</text>
<line x1="488.90" y1="108.61" x2="492.30" y2="108.61" stroke="#404040" stroke-width="1"/>
<text x="485.30" y="111.51" font-size="8.4" text-anchor="end" fill="#222">50</text>
<line x1="488.90" y1="88.94" x2="492.30" y2="88.94" stroke="#404040" stroke-width="1"/>
<text x="485.30" y="91.84" font-size="8.4" text-anchor="end" fill="#222">100</text>
<line x1="488.90" y1="69.26" x2="492.30" y2="69.26" stroke="#404040" stroke-width="1"/>
<text x="485.30" y="72.16" font-size="8.4" text-anchor="end" fill="#222">150</text>
<line x1="488.90" y1="49.59" x2="492.30" y2="49.59" stroke="#404040" stroke-width="1"/>
<text x="485.30" y="52.49" font-size="8.4" text-anchor="end" fill="#222">200</text>
<line x1="488.90" y1="29.91" x2="492.30" y2="29.91" stroke="#404040" stroke-width="1"/>
<text x="485.30" y="32.81" font-size="8.4" text-anchor="end" fill="#222">250</text>
<line x1="488.90" y1="10.24" x2="492.30" y2="10.24" stroke="#404040" stroke-width="1"/>
<text x="485.30" y="13.14" font-size="8.4" text-anchor="end" fill="#222">300</text>
<line x1="488.90" y1="157.80" x2="490.80" y2="157.80" stroke="#404040" stroke-width="1"/>
<line x1="488.90" y1="138.12" x2="490.80" y2="138.12" stroke="#404040" stroke-width="1"/>
<line x1="488.90" y1="118.45" x2="490.80" y2="118.45" stroke="#404040" stroke-width="1"/>
<line x1="488.90" y1="98.78" x2="490.80" y2="98.78" stroke="#404040" stroke-width="1"/>
<line x1="488.90" y1="79.10" x2="490.80" y2="79.10" stroke="#404040" stroke-width="1"/>
<line x1="488.90" y1="59.43" x2="490.80" y2="59.43" stroke="#404040" stroke-width="1"/>
<line x1="488.90" y1="39.75" x2="490.80" y2="39.75" stroke="#404040" stroke-width="1"/>
<line x1="488.90" y1="20.08" x2="490.80" y2="20.08" stroke="#404040" stroke-width="1"/>
<line x1="488.90" y1="0.40" x2="490.80" y2="0.40" stroke="#404040" stroke-width="1"/>
<text x="586.65" y="183.40" font-size="10.5" fill="#222" stroke="#222" stroke-width="0.15" text-anchor="middle" >Tip bias (V)</text>
<text transform="translate(468.60,80.00) rotate(-90)" font-size="10.5" text-anchor="middle" fill="#222" stroke="#222" stroke-width="0.15">Phase (°)</text>
<text x="458.30" y="11.80" font-size="15.5" fill="#222" stroke="#222" stroke-width="0.15" text-anchor="start" >c</text>
<line x1="503" y1="12.4" x2="521.7" y2="12.4" stroke="#2aa8c2" stroke-width="1"/>
<line x1="503" y1="22.2" x2="521.7" y2="22.2" stroke="#f99a48" stroke-width="1"/>
<text x="523.90" y="15.00" font-size="8" fill="#2fa6c0" stroke="#2fa6c0" stroke-width="0.15" text-anchor="start" >flash annealed</text>
<text x="523.90" y="25.10" font-size="8" fill="#f7953e" stroke="#f7953e" stroke-width="0.15" text-anchor="start" >unannealed</text>
<path d="M43.20,228.00 C44.63,228.52 47.92,229.37 51.80,231.10 C55.68,232.83 61.30,236.27 66.50,238.40 C71.70,240.53 77.20,242.07 83.00,243.90 C88.80,245.73 93.80,247.63 101.30,249.40 C108.80,251.17 121.00,253.65 128.00,254.50 C135.00,255.35 138.92,254.35 143.30,254.50 C147.68,254.65 151.70,254.73 154.30,255.40 C156.90,256.07 157.68,256.30 158.90,258.50 C160.12,260.70 160.28,263.20 161.60,268.60 C162.92,274.00 164.63,280.03 166.80,290.90 C168.97,301.77 173.30,326.65 174.60,333.80" fill="none" stroke="#2aa8c2" stroke-width="1.15" stroke-linejoin="round" stroke-linecap="round" />
<path d="M174.60,333.80 C175.40,330.13 177.55,319.65 179.40,311.80 C181.25,303.95 183.43,293.67 185.70,286.70 C187.97,279.73 190.30,275.15 193.00,270.00 C195.70,264.85 199.35,258.53 201.90,255.80 C204.45,253.07 207.23,253.97 208.30,253.60" fill="none" stroke="#2aa8c2" stroke-width="1.15" stroke-linejoin="round" stroke-linecap="round" />
<path d="M208.30,253.60 C206.63,253.82 203.02,254.08 198.30,254.90 C193.58,255.72 186.12,257.13 180.00,258.50 C173.88,259.87 170.77,261.27 161.60,263.10 C152.43,264.93 135.05,268.43 125.00,269.50 C114.95,270.57 105.97,267.32 101.30,269.50 C96.63,271.68 98.75,274.85 97.00,282.60 C95.25,290.35 92.72,306.93 90.80,316.00 C88.88,325.07 86.38,333.50 85.50,337.00" fill="none" stroke="#2aa8c2" stroke-width="1.15" stroke-linejoin="round" stroke-linecap="round" />
<path d="M85.50,337.00 C84.77,333.53 83.05,325.15 81.10,316.20 C79.15,307.25 76.55,293.67 73.80,283.30 C71.05,272.93 67.97,261.95 64.60,254.00 C61.23,246.05 57.17,239.93 53.60,235.60 C50.03,231.27 44.93,229.27 43.20,228.00" fill="none" stroke="#2aa8c2" stroke-width="1.15" stroke-linejoin="round" stroke-linecap="round" />
<path d="M43.20,268.20 C44.63,267.72 49.75,265.78 51.80,265.30 C53.85,264.82 50.30,264.60 55.50,265.30 C60.70,266.00 73.85,268.03 83.00,269.50 C92.15,270.97 102.90,272.97 110.40,274.10 C117.90,275.23 122.08,275.52 128.00,276.30 C133.92,277.08 141.17,278.10 145.90,278.80 C150.63,279.50 153.43,279.53 156.40,280.50 C159.37,281.47 161.27,282.52 163.70,284.60 C166.13,286.68 168.38,288.82 171.00,293.00 C173.62,297.18 176.78,303.77 179.40,309.70 C182.02,315.63 184.68,324.68 186.70,328.60 C188.72,332.52 190.70,332.43 191.50,333.20" fill="none" stroke="#f99a48" stroke-width="1.15" stroke-linejoin="round" stroke-linecap="round" />
<path d="M191.50,333.20 C192.27,331.03 194.28,324.45 196.10,320.20 C197.92,315.95 200.30,311.70 202.40,307.70 C204.50,303.70 207.65,298.12 208.70,296.20" fill="none" stroke="#f99a48" stroke-width="1.15" stroke-linejoin="round" stroke-linecap="round" />
<path d="M208.70,296.20 C207.83,295.85 205.95,294.57 203.50,294.10 C201.05,293.63 200.12,293.05 194.00,293.40 C187.88,293.75 178.30,294.70 166.80,296.20 C155.30,297.70 134.88,301.02 125.00,302.40 C115.12,303.78 112.52,303.28 107.50,304.50 C102.48,305.72 99.08,306.38 94.90,309.70 C90.72,313.02 85.70,320.03 82.40,324.40 C79.10,328.77 76.32,333.98 75.10,335.90" fill="none" stroke="#f99a48" stroke-width="1.15" stroke-linejoin="round" stroke-linecap="round" />
<path d="M75.10,335.90 C73.97,332.62 70.97,323.15 68.30,316.20 C65.63,309.25 62.15,301.52 59.10,294.20 C56.05,286.88 52.65,276.63 50.00,272.30 C47.35,267.97 44.33,268.88 43.20,268.20" fill="none" stroke="#f99a48" stroke-width="1.15" stroke-linejoin="round" stroke-linecap="round" />
<rect x="28.70" y="197.20" width="195.20" height="156.90" fill="none" stroke="#404040" stroke-width="1.2"/>
<line x1="42.64" y1="354.10" x2="42.64" y2="350.90" stroke="#404040" stroke-width="1"/>
<line x1="70.53" y1="354.10" x2="70.53" y2="350.90" stroke="#404040" stroke-width="1"/>
<line x1="98.41" y1="354.10" x2="98.41" y2="350.90" stroke="#404040" stroke-width="1"/>
<line x1="126.30" y1="354.10" x2="126.30" y2="350.90" stroke="#404040" stroke-width="1"/>
<line x1="154.19" y1="354.10" x2="154.19" y2="350.90" stroke="#404040" stroke-width="1"/>
<line x1="182.07" y1="354.10" x2="182.07" y2="350.90" stroke="#404040" stroke-width="1"/>
<line x1="209.96" y1="354.10" x2="209.96" y2="350.90" stroke="#404040" stroke-width="1"/>
<line x1="28.70" y1="354.10" x2="28.70" y2="352.20" stroke="#404040" stroke-width="1"/>
<line x1="56.59" y1="354.10" x2="56.59" y2="352.20" stroke="#404040" stroke-width="1"/>
<line x1="84.47" y1="354.10" x2="84.47" y2="352.20" stroke="#404040" stroke-width="1"/>
<line x1="112.36" y1="354.10" x2="112.36" y2="352.20" stroke="#404040" stroke-width="1"/>
<line x1="140.24" y1="354.10" x2="140.24" y2="352.20" stroke="#404040" stroke-width="1"/>
<line x1="168.13" y1="354.10" x2="168.13" y2="352.20" stroke="#404040" stroke-width="1"/>
<line x1="196.01" y1="354.10" x2="196.01" y2="352.20" stroke="#404040" stroke-width="1"/>
<line x1="223.90" y1="354.10" x2="223.90" y2="352.20" stroke="#404040" stroke-width="1"/>
<text x="42.64" y="364.20" font-size="8.4" text-anchor="middle" fill="#222">-30</text>
<text x="70.53" y="364.20" font-size="8.4" text-anchor="middle" fill="#222">-20</text>
<text x="98.41" y="364.20" font-size="8.4" text-anchor="middle" fill="#222">-10</text>
<text x="126.30" y="364.20" font-size="8.4" text-anchor="middle" fill="#222">0</text>
<text x="154.19" y="364.20" font-size="8.4" text-anchor="middle" fill="#222">10</text>
<text x="182.07" y="364.20" font-size="8.4" text-anchor="middle" fill="#222">20</text>
<text x="209.96" y="364.20" font-size="8.4" text-anchor="middle" fill="#222">30</text>
<line x1="28.70" y1="341.03" x2="32.10" y2="341.03" stroke="#404040" stroke-width="1"/>
<text x="25.10" y="343.93" font-size="8.4" text-anchor="end" fill="#222">0</text>
<line x1="28.70" y1="314.88" x2="32.10" y2="314.88" stroke="#404040" stroke-width="1"/>
<text x="25.10" y="317.77" font-size="8.4" text-anchor="end" fill="#222">50</text>
<line x1="28.70" y1="288.73" x2="32.10" y2="288.73" stroke="#404040" stroke-width="1"/>
<text x="25.10" y="291.62" font-size="8.4" text-anchor="end" fill="#222">100</text>
<line x1="28.70" y1="262.57" x2="32.10" y2="262.57" stroke="#404040" stroke-width="1"/>
<text x="25.10" y="265.47" font-size="8.4" text-anchor="end" fill="#222">150</text>
<line x1="28.70" y1="236.43" x2="32.10" y2="236.43" stroke="#404040" stroke-width="1"/>
<text x="25.10" y="239.33" font-size="8.4" text-anchor="end" fill="#222">200</text>
<line x1="28.70" y1="210.28" x2="32.10" y2="210.28" stroke="#404040" stroke-width="1"/>
<text x="25.10" y="213.18" font-size="8.4" text-anchor="end" fill="#222">250</text>
<line x1="28.70" y1="354.10" x2="30.60" y2="354.10" stroke="#404040" stroke-width="1"/>
<line x1="28.70" y1="327.95" x2="30.60" y2="327.95" stroke="#404040" stroke-width="1"/>
<line x1="28.70" y1="301.80" x2="30.60" y2="301.80" stroke="#404040" stroke-width="1"/>
<line x1="28.70" y1="275.65" x2="30.60" y2="275.65" stroke="#404040" stroke-width="1"/>
<line x1="28.70" y1="249.50" x2="30.60" y2="249.50" stroke="#404040" stroke-width="1"/>
<line x1="28.70" y1="223.35" x2="30.60" y2="223.35" stroke="#404040" stroke-width="1"/>
<line x1="28.70" y1="197.20" x2="30.60" y2="197.20" stroke="#404040" stroke-width="1"/>
<text x="126.30" y="379.70" font-size="10.5" fill="#222" stroke="#222" stroke-width="0.15" text-anchor="middle" >Tip bias (V)</text>
<text transform="translate(8.00,275.50) rotate(-90)" font-size="10.5" text-anchor="middle" fill="#222" stroke="#222" stroke-width="0.15">Amplitude (pm)</text>
<text x="1.50" y="207.70" font-size="15.5" fill="#222" stroke="#222" stroke-width="0.15" text-anchor="start" >d</text>
<line x1="131.3" y1="209.9" x2="149.7" y2="209.9" stroke="#2aa8c2" stroke-width="1"/>
<line x1="131.3" y1="220" x2="149.7" y2="220" stroke="#f99a48" stroke-width="1"/>
<text x="151.90" y="212.70" font-size="8" fill="#2fa6c0" stroke="#2fa6c0" stroke-width="0.15" text-anchor="start" >flash annealed</text>
<text x="151.90" y="222.60" font-size="8" fill="#f7953e" stroke="#f7953e" stroke-width="0.15" text-anchor="start" >unannealed</text>
<rect x="263.1" y="292.4" width="12.4" height="62.0" fill="#e6f5d6"/>
<rect x="289.5" y="205.9" width="12.4" height="148.49999999999997" fill="#fde4d3"/>
<rect x="326" y="251.8" width="125.39999999999998" height="102.59999999999997" fill="#d2f0f6"/>
<path d="M255.8,354.4 L255.8,196.8 L320.5,196.8 M328,196.8 L451.4,196.8 L451.4,354.4 L328,354.4 M320.5,354.4 L255.8,354.4" fill="none" stroke="#404040" stroke-width="1.1"/>
<line x1="319.2" y1="199.9" x2="325.5" y2="193.70000000000002" stroke="#404040" stroke-width="0.9"/>
<line x1="322.8" y1="199.9" x2="329.2" y2="193.70000000000002" stroke="#404040" stroke-width="0.9"/>
<line x1="319.2" y1="357.5" x2="325.5" y2="351.29999999999995" stroke="#404040" stroke-width="0.9"/>
<line x1="322.8" y1="357.5" x2="329.2" y2="351.29999999999995" stroke="#404040" stroke-width="0.9"/>
<line x1="269.20" y1="354.40" x2="269.20" y2="351.20" stroke="#404040" stroke-width="1"/>
<line x1="334.40" y1="354.40" x2="334.40" y2="351.20" stroke="#404040" stroke-width="1"/>
<line x1="368.00" y1="354.40" x2="368.00" y2="351.20" stroke="#404040" stroke-width="1"/>
<line x1="401.30" y1="354.40" x2="401.30" y2="351.20" stroke="#404040" stroke-width="1"/>
<line x1="434.70" y1="354.40" x2="434.70" y2="351.20" stroke="#404040" stroke-width="1"/>
<line x1="295.70" y1="354.40" x2="295.70" y2="352.50" stroke="#404040" stroke-width="1"/>
<line x1="351.10" y1="354.40" x2="351.10" y2="352.50" stroke="#404040" stroke-width="1"/>
<line x1="384.60" y1="354.40" x2="384.60" y2="352.50" stroke="#404040" stroke-width="1"/>
<line x1="418.00" y1="354.40" x2="418.00" y2="352.50" stroke="#404040" stroke-width="1"/>
<text x="269.20" y="364.50" font-size="8" fill="#222" stroke="#222" stroke-width="0.15" text-anchor="middle" >0</text>
<text x="334.40" y="364.50" font-size="8" fill="#222" stroke="#222" stroke-width="0.15" text-anchor="middle" >60</text>
<text x="368.00" y="364.50" font-size="8" fill="#222" stroke="#222" stroke-width="0.15" text-anchor="middle" >80</text>
<text x="401.30" y="364.50" font-size="8" fill="#222" stroke="#222" stroke-width="0.15" text-anchor="middle" >100</text>
<text x="434.70" y="364.50" font-size="8" fill="#222" stroke="#222" stroke-width="0.15" text-anchor="middle" >120</text>
<line x1="255.80" y1="354.40" x2="259.20" y2="354.40" stroke="#404040" stroke-width="1"/>
<text x="252.20" y="357.30" font-size="8.4" text-anchor="end" fill="#222">0</text>
<line x1="255.80" y1="333.39" x2="259.20" y2="333.39" stroke="#404040" stroke-width="1"/>
<text x="252.20" y="336.29" font-size="8.4" text-anchor="end" fill="#222">10</text>
<line x1="255.80" y1="312.37" x2="259.20" y2="312.37" stroke="#404040" stroke-width="1"/>
<text x="252.20" y="315.27" font-size="8.4" text-anchor="end" fill="#222">20</text>
<line x1="255.80" y1="291.36" x2="259.20" y2="291.36" stroke="#404040" stroke-width="1"/>
<text x="252.20" y="294.26" font-size="8.4" text-anchor="end" fill="#222">30</text>
<line x1="255.80" y1="270.35" x2="259.20" y2="270.35" stroke="#404040" stroke-width="1"/>
<text x="252.20" y="273.25" font-size="8.4" text-anchor="end" fill="#222">40</text>
<line x1="255.80" y1="249.33" x2="259.20" y2="249.33" stroke="#404040" stroke-width="1"/>
<text x="252.20" y="252.23" font-size="8.4" text-anchor="end" fill="#222">50</text>
<line x1="255.80" y1="228.32" x2="259.20" y2="228.32" stroke="#404040" stroke-width="1"/>
<text x="252.20" y="231.22" font-size="8.4" text-anchor="end" fill="#222">60</text>
<line x1="255.80" y1="207.31" x2="259.20" y2="207.31" stroke="#404040" stroke-width="1"/>
<text x="252.20" y="210.21" font-size="8.4" text-anchor="end" fill="#222">70</text>
<line x1="255.80" y1="343.89" x2="257.70" y2="343.89" stroke="#404040" stroke-width="1"/>
<line x1="255.80" y1="322.88" x2="257.70" y2="322.88" stroke="#404040" stroke-width="1"/>
<line x1="255.80" y1="301.87" x2="257.70" y2="301.87" stroke="#404040" stroke-width="1"/>
<line x1="255.80" y1="280.85" x2="257.70" y2="280.85" stroke="#404040" stroke-width="1"/>
<line x1="255.80" y1="259.84" x2="257.70" y2="259.84" stroke="#404040" stroke-width="1"/>
<line x1="255.80" y1="238.83" x2="257.70" y2="238.83" stroke="#404040" stroke-width="1"/>
<line x1="255.80" y1="217.81" x2="257.70" y2="217.81" stroke="#404040" stroke-width="1"/>
<line x1="255.80" y1="196.80" x2="257.70" y2="196.80" stroke="#404040" stroke-width="1"/>
<text x="353.50" y="380.00" font-size="10.5" fill="#222" stroke="#222" stroke-width="0.15" text-anchor="middle" >Time (min)</text>
<text transform="translate(238.00,275.50) rotate(-90)" font-size="10.5" text-anchor="middle" fill="#222" stroke="#222" stroke-width="0.15">|d<tspan dy="2.5" font-size="7.5">33</tspan><tspan dy="-2.5">| (pm/V)</tspan></text>
<text x="230.00" y="207.70" font-size="15.5" fill="#222" stroke="#222" stroke-width="0.15" text-anchor="start" >e</text>
<text transform="translate(272,295.5) rotate(-90)" font-size="9.5" fill="#9bd65a" stroke="#9bd65a" stroke-width="0.25">unannealed</text>
<circle cx="269.10" cy="293.30" r="2.6" fill="#8ed53f"/>
<rect x="267.00" y="302.90" width="4.2" height="4.2" fill="#8ed53f"/>
<polygon points="269.10,311.55 272.00,306.53 266.20,306.53" fill="#8ed53f"/>
<polygon points="269.10,332.24 272.10,337.43 266.10,337.43" fill="#8ed53f"/>
<polygon points="295.80,203.90 296.95,207.21 300.46,207.29 297.66,209.41 298.68,212.76 295.80,210.76 292.92,212.76 293.94,209.41 291.14,207.29 294.65,207.21" fill="#f7892a"/>
<text x="304.50" y="215.00" font-size="9.5" fill="#f7a15a" stroke="#f7a15a" stroke-width="0.15" text-anchor="start" >flash annealed</text>
<text x="325.20" y="249.30" font-size="9.5" fill="#3bb8d2" stroke="#3bb8d2" stroke-width="0.15" text-anchor="start" >long-time annealed</text>
<circle cx="434.80" cy="252.30" r="2.6" fill="#1fa8c8"/>
<rect x="432.70" y="261.90" width="4.2" height="4.2" fill="#1fa8c8"/>
<polygon points="434.80,283.85 437.70,278.83 431.90,278.83" fill="#1fa8c8"/>
<polygon points="434.80,307.74 437.80,312.93 431.80,312.93" fill="#1fa8c8"/>
<polygon points="334.20,307.74 337.20,312.93 331.20,312.93" fill="#1fa8c8"/>
<polygon points="406.50,198.60 407.63,201.85 411.07,201.92 408.33,203.99 409.32,207.28 406.50,205.32 403.68,207.28 404.67,203.99 401.93,201.92 405.37,201.85" fill="#c19de8"/>
<rect x="404.40" y="210.30" width="4.2" height="4.2" fill="#c19de8"/>
<circle cx="406.50" cy="221.20" r="2.5" fill="#c19de8"/>
<polygon points="406.50,234.05 409.40,229.03 403.60,229.03" fill="#c19de8"/>
<polygon points="406.50,235.74 409.50,240.93 403.50,240.93" fill="#c19de8"/>
<text x="417.30" y="205.90" font-size="7.5" fill="#c6a8ea" stroke="#c6a8ea" stroke-width="0.15" text-anchor="start" >This work</text>
<text x="417.30" y="214.95" font-size="7.5" fill="#c6a8ea" stroke="#c6a8ea" stroke-width="0.15" text-anchor="start" >Ref.24</text>
<text x="417.30" y="224.00" font-size="7.5" fill="#c6a8ea" stroke="#c6a8ea" stroke-width="0.15" text-anchor="start" >Ref.26</text>
<text x="417.30" y="233.05" font-size="7.5" fill="#c6a8ea" stroke="#c6a8ea" stroke-width="0.15" text-anchor="start" >Ref.46</text>
<text x="417.30" y="242.10" font-size="7.5" fill="#c6a8ea" stroke="#c6a8ea" stroke-width="0.15" text-anchor="start" >Ref.47</text>
<line x1="489.0" y1="354.0" x2="676" y2="201.9" stroke="#f7913a" stroke-width="1"/>
<line x1="489.0" y1="354.0" x2="676" y2="241.7" stroke="#1fa7c6" stroke-width="1"/>
<line x1="489.0" y1="354.0" x2="676.4" y2="310.2" stroke="#3a3a3a" stroke-width="1"/>
<line x1="489.0" y1="354.0" x2="676.4" y2="325.7" stroke="#a8a8a8" stroke-width="1"/>
<circle cx="503.90" cy="334.10" r="2.2" fill="#f7913a"/>
<circle cx="515.40" cy="324.10" r="2.2" fill="#f7913a"/>
<circle cx="538.20" cy="307.90" r="2.2" fill="#f7913a"/>
<circle cx="564.80" cy="290.00" r="2.2" fill="#f7913a"/>
<circle cx="582.40" cy="278.60" r="2.2" fill="#f7913a"/>
<circle cx="590.10" cy="270.70" r="2.2" fill="#f7913a"/>
<circle cx="604.80" cy="259.30" r="2.2" fill="#f7913a"/>
<circle cx="615.70" cy="250.80" r="2.2" fill="#f7913a"/>
<circle cx="629.00" cy="242.40" r="2.2" fill="#f7913a"/>
<circle cx="640.70" cy="233.00" r="2.2" fill="#f7913a"/>
<circle cx="651.80" cy="221.20" r="2.2" fill="#f7913a"/>
<circle cx="661.20" cy="214.60" r="2.2" fill="#f7913a"/>
<rect x="505.80" y="337.50" width="3.4" height="3.4" fill="#1fa7c6"/>
<rect x="519.10" y="329.40" width="3.4" height="3.4" fill="#1fa7c6"/>
<rect x="544.40" y="312.40" width="3.4" height="3.4" fill="#1fa7c6"/>
<rect x="564.50" y="303.80" width="3.4" height="3.4" fill="#1fa7c6"/>
<rect x="577.90" y="297.60" width="3.4" height="3.4" fill="#1fa7c6"/>
<rect x="593.70" y="288.70" width="3.4" height="3.4" fill="#1fa7c6"/>
<rect x="607.80" y="280.10" width="3.4" height="3.4" fill="#1fa7c6"/>
<rect x="621.80" y="269.90" width="3.4" height="3.4" fill="#1fa7c6"/>
<rect x="632.40" y="264.20" width="3.4" height="3.4" fill="#1fa7c6"/>
<rect x="647.00" y="256.00" width="3.4" height="3.4" fill="#1fa7c6"/>
<rect x="663.50" y="248.20" width="3.4" height="3.4" fill="#1fa7c6"/>
<polygon points="507.50,344.94 509.80,348.93 505.20,348.93" fill="#3a3a3a"/>
<polygon points="521.80,341.54 524.10,345.53 519.50,345.53" fill="#3a3a3a"/>
<polygon points="543.70,336.94 546.00,340.93 541.40,340.93" fill="#3a3a3a"/>
<polygon points="563.80,333.04 566.10,337.03 561.50,337.03" fill="#3a3a3a"/>
<polygon points="578.30,330.24 580.60,334.23 576.00,334.23" fill="#3a3a3a"/>
<polygon points="590.30,325.04 592.60,329.03 588.00,329.03" fill="#3a3a3a"/>
<polygon points="606.20,321.44 608.50,325.43 603.90,325.43" fill="#3a3a3a"/>
<polygon points="621.40,319.14 623.70,323.13 619.10,323.13" fill="#3a3a3a"/>
<polygon points="637.10,316.34 639.40,320.33 634.80,320.33" fill="#3a3a3a"/>
<polygon points="649.60,314.14 651.90,318.13 647.30,318.13" fill="#3a3a3a"/>
<polygon points="665.10,311.14 667.40,315.13 662.80,315.13" fill="#3a3a3a"/>
<polygon points="512.50,354.26 514.80,350.27 510.20,350.27" fill="#a8a8a8"/>
<polygon points="528.00,352.26 530.30,348.27 525.70,348.27" fill="#a8a8a8"/>
<polygon points="551.00,348.26 553.30,344.27 548.70,344.27" fill="#a8a8a8"/>
<polygon points="575.10,344.46 577.40,340.47 572.80,340.47" fill="#a8a8a8"/>
<polygon points="598.50,341.36 600.80,337.37 596.20,337.37" fill="#a8a8a8"/>
<polygon points="614.20,338.36 616.50,334.37 611.90,334.37" fill="#a8a8a8"/>
<polygon points="626.90,335.96 629.20,331.97 624.60,331.97" fill="#a8a8a8"/>
<polygon points="641.60,333.76 643.90,329.77 639.30,329.77" fill="#a8a8a8"/>
<polygon points="662.50,329.96 664.80,325.97 660.20,325.97" fill="#a8a8a8"/>
<rect x="488.60" y="196.80" width="195.70" height="157.20" fill="none" stroke="#404040" stroke-width="1.2"/>
<line x1="488.60" y1="354.00" x2="488.60" y2="350.80" stroke="#404040" stroke-width="1"/>
<line x1="505.65" y1="354.00" x2="505.65" y2="350.80" stroke="#404040" stroke-width="1"/>
<line x1="522.69" y1="354.00" x2="522.69" y2="350.80" stroke="#404040" stroke-width="1"/>
<line x1="539.74" y1="354.00" x2="539.74" y2="350.80" stroke="#404040" stroke-width="1"/>
<line x1="556.79" y1="354.00" x2="556.79" y2="350.80" stroke="#404040" stroke-width="1"/>
<line x1="573.84" y1="354.00" x2="573.84" y2="350.80" stroke="#404040" stroke-width="1"/>
<line x1="590.88" y1="354.00" x2="590.88" y2="350.80" stroke="#404040" stroke-width="1"/>
<line x1="607.93" y1="354.00" x2="607.93" y2="350.80" stroke="#404040" stroke-width="1"/>
<line x1="624.98" y1="354.00" x2="624.98" y2="350.80" stroke="#404040" stroke-width="1"/>
<line x1="642.02" y1="354.00" x2="642.02" y2="350.80" stroke="#404040" stroke-width="1"/>
<line x1="659.07" y1="354.00" x2="659.07" y2="350.80" stroke="#404040" stroke-width="1"/>
<line x1="676.12" y1="354.00" x2="676.12" y2="350.80" stroke="#404040" stroke-width="1"/>
<line x1="497.12" y1="354.00" x2="497.12" y2="352.10" stroke="#404040" stroke-width="1"/>
<line x1="514.17" y1="354.00" x2="514.17" y2="352.10" stroke="#404040" stroke-width="1"/>
<line x1="531.22" y1="354.00" x2="531.22" y2="352.10" stroke="#404040" stroke-width="1"/>
<line x1="548.26" y1="354.00" x2="548.26" y2="352.10" stroke="#404040" stroke-width="1"/>
<line x1="565.31" y1="354.00" x2="565.31" y2="352.10" stroke="#404040" stroke-width="1"/>
<line x1="582.36" y1="354.00" x2="582.36" y2="352.10" stroke="#404040" stroke-width="1"/>
<line x1="599.41" y1="354.00" x2="599.41" y2="352.10" stroke="#404040" stroke-width="1"/>
<line x1="616.45" y1="354.00" x2="616.45" y2="352.10" stroke="#404040" stroke-width="1"/>
<line x1="633.50" y1="354.00" x2="633.50" y2="352.10" stroke="#404040" stroke-width="1"/>
<line x1="650.55" y1="354.00" x2="650.55" y2="352.10" stroke="#404040" stroke-width="1"/>
<line x1="667.59" y1="354.00" x2="667.59" y2="352.10" stroke="#404040" stroke-width="1"/>
<line x1="684.64" y1="354.00" x2="684.64" y2="352.10" stroke="#404040" stroke-width="1"/>
<text x="488.60" y="364.10" font-size="8.4" text-anchor="middle" fill="#222">0</text>
<text x="505.65" y="364.10" font-size="8.4" text-anchor="middle" fill="#222">5</text>
<text x="522.69" y="364.10" font-size="8.4" text-anchor="middle" fill="#222">10</text>
<text x="539.74" y="364.10" font-size="8.4" text-anchor="middle" fill="#222">15</text>
<text x="556.79" y="364.10" font-size="8.4" text-anchor="middle" fill="#222">20</text>
<text x="573.84" y="364.10" font-size="8.4" text-anchor="middle" fill="#222">25</text>
<text x="590.88" y="364.10" font-size="8.4" text-anchor="middle" fill="#222">30</text>
<text x="607.93" y="364.10" font-size="8.4" text-anchor="middle" fill="#222">35</text>
<text x="624.98" y="364.10" font-size="8.4" text-anchor="middle" fill="#222">40</text>
<text x="642.02" y="364.10" font-size="8.4" text-anchor="middle" fill="#222">45</text>
<text x="659.07" y="364.10" font-size="8.4" text-anchor="middle" fill="#222">50</text>
<text x="676.12" y="364.10" font-size="8.4" text-anchor="middle" fill="#222">55</text>
<line x1="488.60" y1="354.00" x2="492.00" y2="354.00" stroke="#404040" stroke-width="1"/>
<text x="485.00" y="356.90" font-size="8.4" text-anchor="end" fill="#222">0</text>
<line x1="488.60" y1="325.42" x2="492.00" y2="325.42" stroke="#404040" stroke-width="1"/>
<text x="485.00" y="328.32" font-size="8.4" text-anchor="end" fill="#222">1000</text>
<line x1="488.60" y1="296.84" x2="492.00" y2="296.84" stroke="#404040" stroke-width="1"/>
<text x="485.00" y="299.74" font-size="8.4" text-anchor="end" fill="#222">2000</text>
<line x1="488.60" y1="268.25" x2="492.00" y2="268.25" stroke="#404040" stroke-width="1"/>
<text x="485.00" y="271.15" font-size="8.4" text-anchor="end" fill="#222">3000</text>
<line x1="488.60" y1="239.67" x2="492.00" y2="239.67" stroke="#404040" stroke-width="1"/>
<text x="485.00" y="242.57" font-size="8.4" text-anchor="end" fill="#222">4000</text>
<line x1="488.60" y1="211.09" x2="492.00" y2="211.09" stroke="#404040" stroke-width="1"/>
<text x="485.00" y="213.99" font-size="8.4" text-anchor="end" fill="#222">5000</text>
<line x1="488.60" y1="339.71" x2="490.50" y2="339.71" stroke="#404040" stroke-width="1"/>
<line x1="488.60" y1="311.13" x2="490.50" y2="311.13" stroke="#404040" stroke-width="1"/>
<line x1="488.60" y1="282.55" x2="490.50" y2="282.55" stroke="#404040" stroke-width="1"/>
<line x1="488.60" y1="253.96" x2="490.50" y2="253.96" stroke="#404040" stroke-width="1"/>
<line x1="488.60" y1="225.38" x2="490.50" y2="225.38" stroke="#404040" stroke-width="1"/>
<line x1="488.60" y1="196.80" x2="490.50" y2="196.80" stroke="#404040" stroke-width="1"/>
<text x="586.45" y="379.60" font-size="10.5" fill="#222" stroke="#222" stroke-width="0.15" text-anchor="middle" >Force (N)</text>
<text transform="translate(463.80,275.30) rotate(-90)" font-size="10.5" text-anchor="middle" fill="#222" stroke="#222" stroke-width="0.15">Voltage (mV)</text>
<text x="458.60" y="207.90" font-size="15.5" fill="#222" stroke="#222" stroke-width="0.15" text-anchor="start" >f</text>
<rect x="504.60" y="205.60" width="3.2" height="3.2" fill="#1fa7c6"/>
<circle cx="506.20" cy="218.10" r="1.9" fill="#f7913a"/>
<polygon points="506.20,225.84 508.50,229.83 503.90,229.83" fill="#3a3a3a"/>
<polygon points="506.20,242.66 508.50,238.67 503.90,238.67" fill="#a8a8a8"/>
<text x="519.10" y="210.00" font-size="9" fill="#2aa6c4" stroke="#2aa6c4" stroke-width="0.15" text-anchor="start" >long-time annealed</text>
<text x="519.10" y="220.80" font-size="9" fill="#f7913a" stroke="#f7913a" stroke-width="0.15" text-anchor="start" >flash annealed</text>
<text x="519.10" y="231.70" font-size="9" fill="#222" stroke="#222" stroke-width="0.15" text-anchor="start" >unannealed</text>
<text x="519.10" y="242.60" font-size="9" fill="#b8b8b8" stroke="#b8b8b8" stroke-width="0.15" text-anchor="start" >Commercial Sensors</text>
<text x="551.70" y="268.90" font-size="7.6" fill="#f7913a" stroke="#f7913a" stroke-width="0.15" text-anchor="start" >96.9 mV/N</text>
<text x="629.40" y="281.20" font-size="7.6" fill="#2aa6c4" stroke="#2aa6c4" stroke-width="0.15" text-anchor="start" >72.1 mV/N</text>
<text x="600.50" y="311.40" font-size="7.5" fill="#333" stroke="#333" stroke-width="0.15" text-anchor="start" >28.1 mV/N</text>
<text x="645.20" y="347.40" font-size="7.5" fill="#aaa" stroke="#aaa" stroke-width="0.15" text-anchor="start" >18.2 mV/N</text>
<line x1="570.5" y1="270.5" x2="576.7" y2="280" stroke="#f7913a" stroke-width="0.8"/>
<polygon points="576.7,280 573.78,278.09 576.12,276.56" fill="#f7913a"/>
<line x1="643.6" y1="276.5" x2="637.7" y2="266.6" stroke="#2aa6c4" stroke-width="0.8"/>
<polygon points="637.7,266.6 640.54,268.63 638.14,270.07" fill="#2aa6c4"/>
<line x1="609.4" y1="312.8" x2="616.4" y2="322.8" stroke="#333" stroke-width="0.8"/>
<polygon points="616.4,322.8 613.42,320.98 615.71,319.38" fill="#333"/>
<line x1="655.6" y1="343.2" x2="648.2" y2="331.3" stroke="#aaa" stroke-width="0.8"/>
<polygon points="648.2,331.3 651.08,333.28 648.70,334.76" fill="#aaa"/>
</svg></body></html>
